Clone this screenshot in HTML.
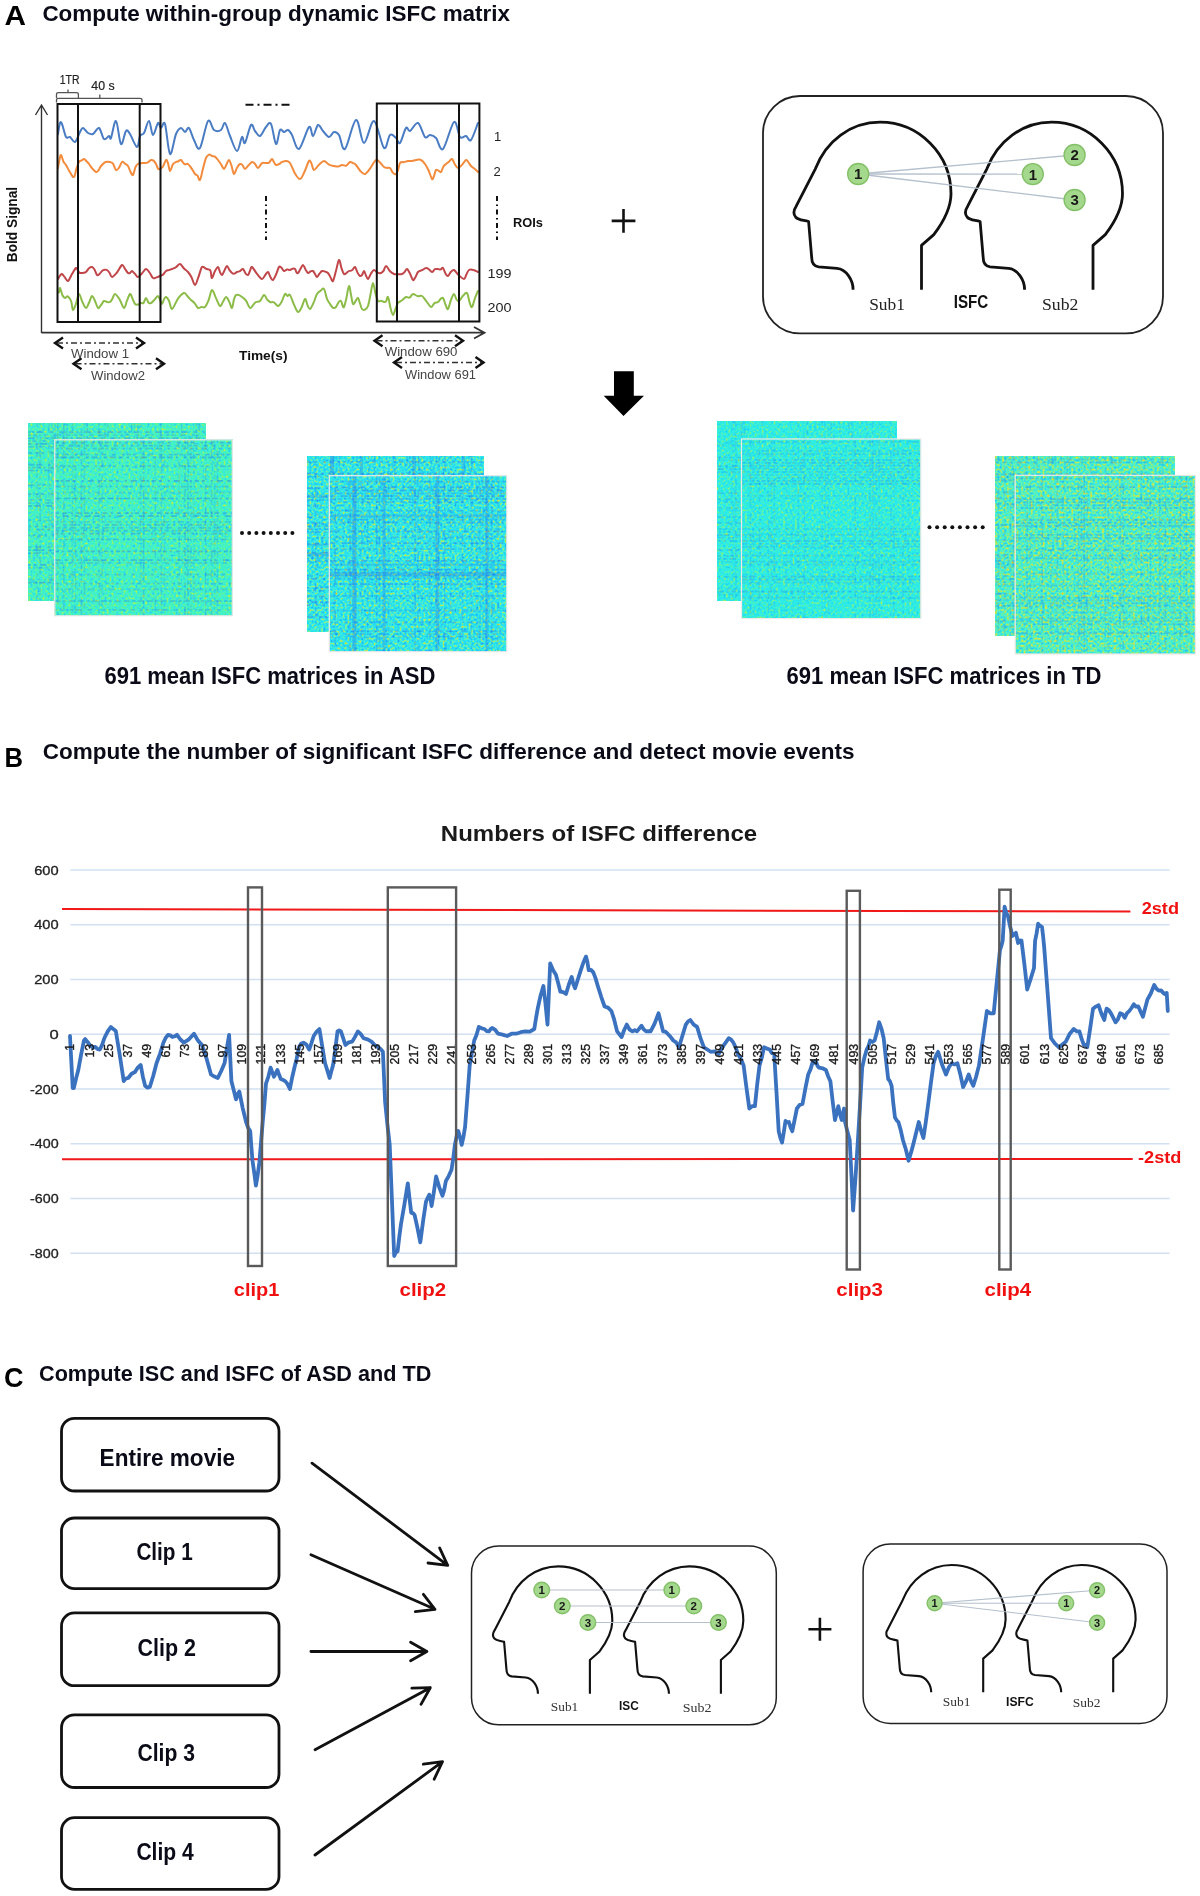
<!DOCTYPE html>
<html><head><meta charset="utf-8"><title>figure</title>
<style>
html,body{margin:0;padding:0;background:#fff;}
body{width:1200px;height:1896px;overflow:hidden;}
svg{display:block;font-family:"Liberation Sans", sans-serif;filter:blur(0.4px);}
</style></head><body>
<svg width="1200" height="1896" viewBox="0 0 1200 1896">
<rect width="1200" height="1896" fill="#fff"/>
<g font-weight="bold">
<text x="4.5" y="24.7" font-size="28" textLength="21.5" lengthAdjust="spacingAndGlyphs" fill="#000">A</text>
<text x="4.5" y="766.7" font-size="27.5" textLength="18.5" lengthAdjust="spacingAndGlyphs" fill="#000">B</text>
<text x="4" y="1386.5" font-size="28" textLength="19.5" lengthAdjust="spacingAndGlyphs" fill="#000">C</text>
</g>
<text x="42.4" y="21.2" font-size="22" font-weight="bold" textLength="467.6" lengthAdjust="spacingAndGlyphs" fill="#0b0b18">Compute within-group dynamic ISFC matrix</text>
<text x="42.7" y="759.2" font-size="22" font-weight="bold" textLength="811.8" lengthAdjust="spacingAndGlyphs" fill="#0b0b18">Compute the number of significant ISFC difference and detect movie events</text>
<text x="39" y="1380.9" font-size="22" font-weight="bold" textLength="392.3" lengthAdjust="spacingAndGlyphs" fill="#0b0b18">Compute ISC and ISFC of ASD and TD</text>
<g fill="none" stroke-linecap="round" stroke-linejoin="round">
<path d="M58 134 C58.3 132.2 59.3 124.7 60 123 C60.7 121.3 61 121.7 62 124 C63 126.3 64.7 134.8 66 137 C67.3 139.2 68.5 136.2 70 137 C71.5 137.8 73.3 142.8 75 142 C76.7 141.2 78.7 134.3 80 132 C81.3 129.7 81.7 127.8 83 128 C84.3 128.2 86.3 132 88 133 C89.7 134 91.2 134.8 93 134 C94.8 133.2 97.2 127.2 99 128 C100.8 128.8 102.3 137.7 104 139 C105.7 140.3 107.8 136.2 109 136 C110.2 135.8 109.8 140.5 111 138 C112.2 135.5 114.3 120 116 121 C117.7 122 119.3 142.3 121 144 C122.7 145.7 124.5 132.7 126 131 C127.5 129.3 128.2 131.3 130 134 C131.8 136.7 135.3 146.7 137 147 C138.7 147.3 138.8 138.3 140 136 C141.2 133.7 142.5 135.5 144 133 C145.5 130.5 147.5 120.7 149 121 C150.5 121.3 151.5 134.7 153 135 C154.5 135.3 156.7 124.2 158 123 C159.3 121.8 159.8 127.8 161 128 C162.2 128.2 163.5 119.7 165 124 C166.5 128.3 168.2 152.3 170 154 C171.8 155.7 174.2 138.3 176 134 C177.8 129.7 179.5 128.3 181 128 C182.5 127.7 183.7 132 185 132 C186.3 132 187.5 126.7 189 128 C190.5 129.3 192.2 136.7 194 140 C195.8 143.3 197.7 151.2 200 148 C202.3 144.8 205.7 124 208 121 C210.3 118 211.8 128.5 214 130 C216.2 131.5 219.2 131.2 221 130 C222.8 128.8 223.5 122 225 123 C226.5 124 228 131.3 230 136 C232 140.7 235 150.8 237 151 C239 151.2 240.7 138.3 242 137 C243.3 135.7 243.5 145 245 143 C246.5 141 249.3 127 251 125 C252.7 123 253.5 129.2 255 131 C256.5 132.8 258.2 136.7 260 136 C261.8 135.3 264.2 129 266 127 C267.8 125 269.3 121.2 271 124 C272.7 126.8 274.5 143 276 144 C277.5 145 278.7 132 280 130 C281.3 128 282.7 132 284 132 C285.3 132 286.7 129.5 288 130 C289.3 130.5 290.2 131.8 292 135 C293.8 138.2 296.2 150.3 299 149 C301.8 147.7 306.7 129.2 309 127 C311.3 124.8 311.5 136.3 313 136 C314.5 135.7 316.3 125.8 318 125 C319.7 124.2 321.2 129 323 131 C324.8 133 327.2 136.8 329 137 C330.8 137.2 332.3 132.3 334 132 C335.7 131.7 337.2 132.2 339 135 C340.8 137.8 342.2 151.5 345 149 C347.8 146.5 352.8 121 356 120 C359.2 119 361 142.8 364 143 C367 143.2 370.7 120.2 374 121 C377.3 121.8 381.3 145.7 384 148 C386.7 150.3 388 136.7 390 135 C392 133.3 394.3 136.7 396 138 C397.7 139.3 398.3 144.7 400 143 C401.7 141.3 404.3 130 406 128 C407.7 126 408 131.8 410 131 C412 130.2 415.5 122 418 123 C420.5 124 423 135 425 137 C427 139 428.2 134.8 430 135 C431.8 135.2 433.8 135.7 436 138 C438.2 140.3 440 151.7 443 149 C446 146.3 451.2 124 454 122 C456.8 120 458 134.7 460 137 C462 139.3 464.2 135.5 466 136 C467.8 136.5 469 142.2 471 140 C473 137.8 476.8 125.8 478 123" stroke="#4a7cc4" stroke-width="2"/>
<path d="M58 168 C58.2 166.6 59 161.8 59.5 159.7 C60 157.5 60.3 154.7 61 155 C61.7 155.3 62.7 160.1 63.5 161.7 C64.3 163.4 64.9 163.2 66 165 C67.1 166.8 68.7 170.3 70 172.3 C71.3 174.3 72.9 177.7 74 177 C75.1 176.3 75.7 170.8 76.5 168.3 C77.3 165.8 78.2 163.3 79 162 C79.8 160.7 80.7 161 81.5 160.5 C82.3 160 83.2 158.9 84 159 C84.8 159.1 85.7 160.4 86.5 161.2 C87.3 162.1 88 162.7 89 164 C90 165.3 91.3 167.4 92.5 168.8 C93.7 170.1 95 171.7 96 172 C97 172.3 97.7 171.4 98.5 170.4 C99.3 169.4 99.8 167.4 101 166 C102.2 164.6 104 162.6 105.5 162 C107 161.3 108.8 161.7 110 162 C111.2 162.3 112 162.3 113 163.6 C114 165 115 169.3 116 170 C117 170.7 118 169 119 167.7 C120 166.3 121 162.7 122 162 C123 161.3 124 163 125 163.7 C126 164.3 127.1 164.6 128 166 C128.9 167.4 129.7 170.3 130.5 171.8 C131.3 173.3 132.2 175.8 133 175 C133.8 174.2 134.7 168.8 135.5 167 C136.3 165.2 137.1 164.6 138 164 C138.9 163.4 140 163.4 141 163.2 C142 163.1 142.9 163.1 144 163 C145.1 162.9 146.3 163.1 147.5 162.6 C148.7 162.1 150 160.3 151 160 C152 159.7 152.7 160 153.5 160.6 C154.3 161.3 155.2 162.7 156 164 C156.8 165.3 157.3 167.9 158 168.7 C158.7 169.6 159.2 169.4 160 169 C160.8 168.6 162 168 163 166.5 C164 165 165.2 160.6 166 160 C166.8 159.4 167.3 161.3 168 163.2 C168.7 165 169.2 170.8 170 171 C170.8 171.2 172 165.6 173 164.1 C174 162.6 175.1 162.5 176 162 C176.9 161.5 177.7 161.5 178.5 161.2 C179.3 160.9 180 159.5 181 160 C182 160.5 183.3 163.5 184.5 164.2 C185.7 164.9 186.8 163.3 188 164 C189.2 164.7 190.3 166.7 191.5 168.4 C192.7 170.1 194 172.8 195 174 C196 175.2 196.7 174.6 197.5 175.6 C198.3 176.6 199.1 181.2 200 180 C200.9 178.8 202 172.3 203 168.6 C204 164.9 205 160.3 206 158 C207 155.7 208 155 209 154.6 C210 154.3 211 155.7 212 156 C213 156.3 214 155.9 215 156.6 C216 157.3 217 158.7 218 160 C219 161.3 220 162.7 221 164.2 C222 165.7 223.1 169 224 169 C224.9 169 225.7 166 226.5 164.5 C227.3 163 228.2 159.8 229 160 C229.8 160.2 230.7 163.3 231.5 165.7 C232.3 168 233.1 173.7 234 174 C234.9 174.3 236 169.3 237 167.7 C238 166 239.1 164.4 240 164 C240.9 163.6 241.7 164.3 242.5 165.1 C243.3 165.9 244 169 245 169 C246 169 247.3 166.5 248.5 165.3 C249.7 164.1 250.9 162.2 252 162 C253.1 161.8 254 162.9 255 163.9 C256 164.9 256.8 168.1 258 168 C259.2 167.9 260.7 163.9 262 163.1 C263.3 162.3 264.8 163.1 266 163 C267.2 162.9 268 163.4 269 162.7 C270 162 271.2 159.1 272 159 C272.8 158.9 273.3 161.3 274 162.3 C274.7 163.3 275.2 164.7 276 165 C276.8 165.3 278 164.7 279 164.2 C280 163.7 280.8 162.5 282 162 C283.2 161.5 284.7 160.8 286 160.9 C287.3 161.1 288.5 160.9 290 163 C291.5 165.1 293.3 170.8 295 173.5 C296.7 176.1 298.4 179.3 300 179 C301.6 178.7 303 174.8 304.5 171.8 C306 168.8 307.8 162.4 309 161 C310.2 159.6 310.7 162.1 311.5 163.6 C312.3 165.1 312.8 169.8 314 170 C315.2 170.2 317.3 166.2 319 164.7 C320.7 163.2 322.3 161 324 161 C325.7 161 327.3 163.8 329 164.6 C330.7 165.4 332.5 165.7 334 166 C335.5 166.3 336.7 166.7 338 166.6 C339.3 166.4 340.7 165.1 342 165 C343.3 164.9 344.7 166.2 346 165.7 C347.3 165.2 348.8 162.4 350 162 C351.2 161.6 352 162.6 353 163.1 C354 163.6 354.8 163.7 356 165 C357.2 166.3 359 169.7 360.5 171.2 C362 172.7 363.3 174.5 365 174 C366.7 173.5 368.7 170.2 370.5 167.9 C372.3 165.5 374.4 160.9 376 160 C377.6 159.1 378.7 161.4 380 162.5 C381.3 163.7 382.8 166.1 384 167 C385.2 167.9 386 167.8 387 167.9 C388 168.1 389 167.2 390 168 C391 168.8 392 171.9 393 172.9 C394 173.9 395.2 174.4 396 174 C396.8 173.6 397.3 172.1 398 170.2 C398.7 168.4 399 164.4 400 163 C401 161.6 402.7 162.4 404 162 C405.3 161.7 406.7 161.2 408 161 C409.3 160.8 410.7 161.1 412 160.9 C413.3 160.8 414.6 160.2 416 160 C417.4 159.8 419 159 420.5 159.7 C422 160.3 423.7 162.2 425 164 C426.3 165.8 427.3 167.7 428.5 170.2 C429.7 172.7 431.1 178 432 179 C432.9 180 433.3 177.5 434 176 C434.7 174.5 435.2 170.9 436 170 C436.8 169.1 437.7 170.2 438.5 170.6 C439.3 170.9 440.2 172.7 441 172 C441.8 171.3 442.7 167.7 443.5 166.4 C444.3 165 445.1 164.8 446 164 C446.9 163.2 448 162.6 449 161.7 C450 160.9 451 158.5 452 159 C453 159.5 454 163 455 164.5 C456 166 456.8 167.9 458 168 C459.2 168.1 460.7 166.2 462 164.9 C463.3 163.5 464.9 160.4 466 160 C467.1 159.6 467.7 161.4 468.5 162.4 C469.3 163.4 470 164.9 471 166 C472 167.1 473.3 167.7 474.5 168.7 C475.7 169.7 477.4 171.4 478 172" stroke="#f28b3c" stroke-width="2"/>
<path d="M58 279 C58.3 278.5 59.3 276.5 60 275.7 C60.7 274.9 61.2 273.7 62 274 C62.8 274.3 64 276.5 65 277.6 C66 278.8 66.8 281.6 68 281 C69.2 280.4 70.7 276.3 72 274.1 C73.3 271.9 75 268.5 76 268 C77 267.5 77.3 270 78 270.8 C78.7 271.6 79.2 272.7 80 273 C80.8 273.3 82 273 83 272.9 C84 272.7 85 272.8 86 272 C87 271.2 88 269 89 268.2 C90 267.4 91.1 266.8 92 267 C92.9 267.2 93.7 268.2 94.5 269.5 C95.3 270.9 96.2 274.3 97 275 C97.8 275.7 98.7 274.7 99.5 274 C100.3 273.3 101.2 271.7 102 271 C102.8 270.3 103.7 269.9 104.5 269.8 C105.3 269.6 106.2 269.5 107 270 C107.8 270.5 108.7 271.5 109.5 272.7 C110.3 273.9 110.8 277 112 277 C113.2 277 115.3 274.5 117 272.5 C118.7 270.5 120.7 265.6 122 265 C123.3 264.4 124 267.6 125 268.9 C126 270.2 127.2 272.3 128 273 C128.8 273.7 129.3 273.3 130 273 C130.7 272.7 131.2 270.8 132 271 C132.8 271.2 134 272.9 135 273.9 C136 274.9 136.8 277.1 138 277 C139.2 276.9 140.7 274.8 142 273.4 C143.3 272.1 144.8 269.2 146 269 C147.2 268.8 148.3 271 149.5 272.5 C150.7 274 151.8 277.2 153 278 C154.2 278.8 155.3 277.7 156.5 277.4 C157.7 277.1 158.9 276.5 160 276 C161.1 275.5 162 275.4 163 274.6 C164 273.8 165 271.8 166 271 C167 270.2 168 270.4 169 270.1 C170 269.7 170.8 269.5 172 269 C173.2 268.5 174.7 268.1 176 267.2 C177.3 266.4 178.7 263.8 180 264 C181.3 264.2 182.7 267.2 184 268.5 C185.3 269.8 186.8 270.6 188 272 C189.2 273.4 190.3 275 191.5 277.2 C192.7 279.4 193.8 285.1 195 285 C196.2 284.9 197.3 279.8 198.5 276.8 C199.7 273.8 200.8 268.3 202 267 C203.2 265.7 204.7 268.3 206 268.8 C207.3 269.3 209.2 269.2 210 270 C210.8 270.8 210.7 272.1 211 273.4 C211.3 274.7 211.3 278.4 212 278 C212.7 277.6 214 272.9 215 271.1 C216 269.3 217.2 266.8 218 267 C218.8 267.2 219.3 270.8 220 272.1 C220.7 273.4 221.2 275.3 222 275 C222.8 274.7 223.7 271.9 224.5 270.4 C225.3 268.9 226.2 266 227 266 C227.8 266 228.7 269 229.5 270.2 C230.3 271.3 231.2 272.4 232 273 C232.8 273.6 233.7 273.8 234.5 273.6 C235.3 273.5 236.1 272.4 237 272 C237.9 271.6 239 271.6 240 271.1 C241 270.6 242.1 268.6 243 269 C243.9 269.4 244.7 272.3 245.5 273.3 C246.3 274.3 247.2 275.4 248 275 C248.8 274.6 249.3 272 250 270.7 C250.7 269.4 250.8 266.5 252 267 C253.2 267.5 255.3 271.9 257 273.9 C258.7 275.9 260.7 278.8 262 279 C263.3 279.2 264 276.5 265 275.3 C266 274.2 267.1 271.7 268 272 C268.9 272.3 269.7 276 270.5 277.3 C271.3 278.6 272.1 280.4 273 280 C273.9 279.6 275 276.8 276 274.6 C277 272.5 278.1 268.1 279 267 C279.9 265.9 280.7 267.1 281.5 267.8 C282.3 268.5 283.1 270.7 284 271 C284.9 271.3 286 269.6 287 269.4 C288 269.2 289.1 270.1 290 270 C290.9 269.9 291.7 268.8 292.5 268.7 C293.3 268.5 294.3 268.4 295 269 C295.7 269.6 296 271.7 296.5 272.4 C297 273.1 297.3 273.6 298 273 C298.7 272.4 299.7 270.1 300.5 268.8 C301.3 267.5 302.2 264.9 303 265 C303.8 265.1 304.7 268 305.5 269.4 C306.3 270.7 307.2 272.7 308 273 C308.8 273.3 309.7 271.7 310.5 271.4 C311.3 271.1 312.2 270.6 313 271 C313.8 271.4 314.3 273 315 274 C315.7 275 316.2 277.1 317 277 C317.8 276.9 318.7 274.7 319.5 273.7 C320.3 272.7 321.1 271.4 322 271 C322.9 270.6 324 271.2 325 271.6 C326 271.9 327.1 272 328 273 C328.9 274 329.7 275.9 330.5 277.3 C331.3 278.6 332.1 282.1 333 281 C333.9 279.9 335 274.3 336 270.8 C337 267.3 338.1 260.4 339 260 C339.9 259.6 340.7 265.9 341.5 268.2 C342.3 270.5 343.2 273.2 344 274 C344.8 274.8 345.7 273.5 346.5 273 C347.3 272.5 348.1 271.5 349 271 C349.9 270.5 351 271 352 270.3 C353 269.6 354.1 266.6 355 267 C355.9 267.4 356.7 271.1 357.5 272.6 C358.3 274.1 359.2 275.6 360 276 C360.8 276.4 361.3 275.8 362 275 C362.7 274.1 363.3 270.9 364 271 C364.7 271.1 365.3 274.2 366 275.5 C366.7 276.8 367.2 279.3 368 279 C368.8 278.7 370 275 371 273.5 C372 272 372.9 270.2 374 270 C375.1 269.8 376.3 272.1 377.5 272.6 C378.7 273.1 380 273.3 381 273 C382 272.7 382.7 272.1 383.5 270.9 C384.3 269.7 384.9 265.9 386 266 C387.1 266.1 388.7 269.9 390 271.2 C391.3 272.5 392.7 273.5 394 274 C395.3 274.5 396.7 274.2 398 274.2 C399.3 274.2 400.9 274.3 402 274 C403.1 273.7 403.7 273 404.5 272.1 C405.3 271.3 406.1 268.8 407 269 C407.9 269.2 409 271.8 410 273.6 C411 275.5 412.1 279.4 413 280 C413.9 280.6 414.7 278.3 415.5 277 C416.3 275.7 416.9 273.1 418 272 C419.1 270.9 420.7 270.9 422 270.2 C423.3 269.6 424.8 268.1 426 268 C427.2 267.9 428 268.7 429 269.4 C430 270 431 272 432 272 C433 272 434 269.7 435 269.2 C436 268.7 437.1 268.9 438 269 C438.9 269.1 439.7 269.7 440.5 269.6 C441.3 269.4 442.2 267.3 443 268 C443.8 268.7 444.7 272.1 445.5 273.5 C446.3 274.8 447.1 276.3 448 276 C448.9 275.7 450 272.8 451 271.8 C452 270.8 452.7 269.4 454 270 C455.3 270.6 457.3 273.9 459 275.4 C460.7 276.9 462.8 279.2 464 279 C465.2 278.8 465.7 275.7 466.5 274.2 C467.3 272.7 467.8 270.7 469 270 C470.2 269.3 472 269.6 473.5 270 C475 270.3 477.2 271.7 478 272" stroke="#c0464a" stroke-width="2"/>
<path d="M58 292 C58.2 292 58.7 292.9 59 292.3 C59.3 291.6 59.4 287.5 60 288 C60.6 288.5 61.7 293.6 62.5 295.2 C63.3 296.9 64.2 297.8 65 298 C65.8 298.2 66.7 296.1 67.5 296.3 C68.3 296.4 69.3 298 70 299 C70.7 300 71 300.6 71.5 302.4 C72 304.3 72.2 309.8 73 310 C73.8 310.2 75 306.3 76 303.7 C77 301 77.9 294.2 79 294 C80.1 293.8 81.3 299.8 82.5 302.2 C83.7 304.5 84.9 307.9 86 308 C87.1 308.1 88 304.8 89 302.8 C90 300.8 91 296.3 92 296 C93 295.7 94 299 95 301 C96 303 97 307.3 98 308 C99 308.7 100 306.2 101 305 C102 303.9 103 301.5 104 301 C105 300.5 106 301.9 107 302 C108 302.2 109.1 302.6 110 302 C110.9 301.4 111.7 299.7 112.5 298.4 C113.3 297.1 113.8 293.9 115 294 C116.2 294.1 118 297 119.5 299.3 C121 301.6 122.8 307.8 124 308 C125.2 308.2 126 303 127 300.7 C128 298.3 129.1 294.4 130 294 C130.9 293.6 131.7 296.8 132.5 298.5 C133.3 300.1 134.1 303 135 304 C135.9 305 137 304.8 138 304.6 C139 304.4 140.1 303.3 141 303 C141.9 302.7 142.7 303.8 143.5 303 C144.3 302.1 145.2 298 146 298 C146.8 298 147.7 301.9 148.5 302.7 C149.3 303.6 150 303.5 151 303 C152 302.5 153.3 300.9 154.5 299.7 C155.7 298.6 157.1 296 158 296 C158.9 296 159.3 298.4 160 299.7 C160.7 301.1 161.3 304.1 162 304 C162.7 303.9 163.3 300.5 164 299.3 C164.7 298.2 165.2 296.8 166 297 C166.8 297.2 168 298.7 169 300.7 C170 302.7 170.5 309.3 172 309 C173.5 308.7 176 301.3 178 298.6 C180 296 182.4 293.4 184 293 C185.6 292.6 186.3 295.2 187.5 296.3 C188.7 297.5 189.8 298.9 191 300 C192.2 301.1 193.3 301.8 194.5 303.1 C195.7 304.4 196.8 307.4 198 308 C199.2 308.6 200.3 307.1 201.5 306.9 C202.7 306.7 203.8 308.1 205 307 C206.2 305.9 207.3 303.3 208.5 300.5 C209.7 297.6 210.8 290.4 212 290 C213.2 289.6 214.7 295.5 216 298.1 C217.3 300.8 218.8 305.4 220 306 C221.2 306.6 222 303.3 223 301.8 C224 300.3 225 297.1 226 297 C227 296.9 228 299.3 229 301.2 C230 303 231.2 308.3 232 308 C232.8 307.7 233.3 301.3 234 299.1 C234.7 297 235.2 295.7 236 295 C236.8 294.3 238 294.8 239 295.1 C240 295.5 240.8 296.1 242 297 C243.2 297.9 244.7 298.9 246 300.7 C247.3 302.5 248.8 307.3 250 308 C251.2 308.7 252 306.1 253 305.1 C254 304.1 254.8 302.7 256 302 C257.2 301.3 258.7 302.2 260 301 C261.3 299.8 262.8 295.3 264 295 C265.2 294.7 266 298.2 267 299.4 C268 300.5 268.8 301.5 270 302 C271.2 302.5 272.7 301.7 274 302.4 C275.3 303.1 276.8 306.1 278 306 C279.2 305.9 280.3 304 281.5 302 C282.7 300 284 295 285 294 C286 293 286.7 295.8 287.5 296 C288.3 296.2 288.9 293.6 290 295 C291.1 296.4 292.7 301.8 294 304.7 C295.3 307.5 296.8 311.5 298 312 C299.2 312.5 300.3 309.7 301.5 307.5 C302.7 305.4 304 299.4 305 299 C306 298.6 306.7 303.6 307.5 305.3 C308.3 307 309 309.4 310 309 C311 308.6 312.3 305.4 313.5 302.9 C314.7 300.4 315.8 296 317 294 C318.2 292 319.3 291.6 320.5 290.8 C321.7 289.9 322.9 287.6 324 289 C325.1 290.4 326 296.4 327 298.9 C328 301.4 329 302.5 330 304 C331 305.5 332 307.3 333 307.8 C334 308.3 335.1 307.9 336 307 C336.9 306.1 337.7 303.3 338.5 302.3 C339.3 301.3 340.3 300.5 341 301 C341.7 301.5 342 304.3 342.5 305.3 C343 306.3 343.3 308.3 344 307 C344.7 305.7 345.7 301.1 346.5 297.6 C347.3 294.1 348.2 286.5 349 286 C349.8 285.5 350.3 291.8 351 294.8 C351.7 297.8 352.2 302.9 353 304 C353.8 305.1 354.7 302.2 355.5 301.2 C356.3 300.2 357.2 297.6 358 298 C358.8 298.4 359.3 301.6 360 303.5 C360.7 305.3 361.2 308 362 309 C362.8 310 364 310.1 365 309.6 C366 309.1 367.1 308.5 368 306 C368.9 303.5 369.7 298.3 370.5 294.5 C371.3 290.7 372.2 283.1 373 283 C373.8 282.9 374.7 290.7 375.5 293.7 C376.3 296.7 377.1 299.8 378 301 C378.9 302.2 380 300.6 381 300.8 C382 300.9 383.2 301.9 384 302 C384.8 302.1 385.3 302.2 386 301.4 C386.7 300.6 387.2 295.9 388 297 C388.8 298.1 389.7 305 390.5 308 C391.3 311 392.2 314.9 393 315 C393.8 315.1 394.7 310.8 395.5 308.8 C396.3 306.8 396.9 304.4 398 303 C399.1 301.6 400.7 301.3 402 300.3 C403.3 299.3 404.8 297.5 406 297 C407.2 296.5 408.3 298.1 409.5 297.6 C410.7 297.1 411.7 294.2 413 294 C414.3 293.8 416 295.8 417.5 296.1 C419 296.5 420.5 295.1 422 296 C423.5 296.9 425 299.6 426.5 301.4 C428 303.3 429.7 306.7 431 307 C432.3 307.3 433.3 303.9 434.5 303.1 C435.7 302.3 437 302.7 438 302 C439 301.3 439.7 299.8 440.5 299.1 C441.3 298.5 442.2 297.1 443 298 C443.8 298.9 444.7 302.7 445.5 304.5 C446.3 306.3 447.1 309.8 448 309 C448.9 308.2 450 302.3 451 299.8 C452 297.3 453.1 294 454 294 C454.9 294 455.7 298.4 456.5 299.5 C457.3 300.7 457.9 301.6 459 301 C460.1 300.4 461.7 297.2 463 295.8 C464.3 294.5 465.9 292 467 293 C468.1 294 468.7 299.7 469.5 302.1 C470.3 304.4 471.1 307.7 472 307 C472.9 306.3 474 300.7 475 298 C476 295.4 477.5 292.2 478 291" stroke="#8cbc48" stroke-width="2"/>
</g>
<g fill="none" stroke="#333" stroke-width="1.4">
<path d="M41.5 333 V105 M35.5 115 L41.5 105 L47.5 115"/>
<path d="M41.5 332.6 H484 M474 327 L484.5 332.8 L474 338.5" stroke-width="1.8"/>
</g>
<g fill="none" stroke="#111" stroke-width="2">
<rect x="57.5" y="104" width="103" height="218"/>
<path d="M78 104 V322 M139.7 104 V322"/>
<rect x="376.8" y="103.5" width="102.6" height="218"/>
<path d="M397 103.5 V321.5 M459 103.5 V321.5"/>
</g>
<g fill="none" stroke="#555" stroke-width="1.3">
<path d="M56.5 98 V94.5 Q56.5 92.7 58.5 92.7 H76.5 Q78.4 92.7 78.4 94.5 V98 M68 92.7 V89.5"/>
<path d="M56.5 102.5 V100 Q56.5 98.3 58.5 98.3 H140 Q142 98.3 142 100 V102.5 M99.8 98.3 V94.5"/>
</g>
<text x="59.8" y="84" font-size="12.5" textLength="19.8" lengthAdjust="spacingAndGlyphs" fill="#222" stroke="#222" stroke-width="0.2">1TR</text>
<text x="91.3" y="90.3" font-size="12.5" textLength="23.3" lengthAdjust="spacingAndGlyphs" fill="#222" stroke="#222" stroke-width="0.2">40 s</text>
<g stroke="#111" stroke-width="2" fill="none">
<path d="M245.5 104.7 H289.5" stroke-dasharray="8 4 2 4"/>
<path d="M266 196 V240" stroke-dasharray="5 3.5 1.5 3.5"/>
<path d="M497 196 V240" stroke-dasharray="5 3.5 1.5 3.5"/>
</g>
<text x="494" y="141" font-size="13" fill="#222">1</text>
<text x="493.4" y="175.5" font-size="13" fill="#222">2</text>
<text x="513" y="227.3" font-size="13" font-weight="bold" textLength="30" lengthAdjust="spacingAndGlyphs" fill="#111">ROIs</text>
<text x="487.5" y="278" font-size="13" textLength="24" lengthAdjust="spacingAndGlyphs" fill="#222">199</text>
<text x="487.5" y="312" font-size="13" textLength="24" lengthAdjust="spacingAndGlyphs" fill="#222">200</text>
<text transform="translate(17.4 262.2) rotate(-90)" font-size="15" font-weight="bold" textLength="75.3" lengthAdjust="spacingAndGlyphs" fill="#111">Bold Signal</text>
<text x="239" y="359.5" font-size="13.5" font-weight="bold" textLength="48.5" lengthAdjust="spacingAndGlyphs" fill="#111">Time(s)</text>
<path d="M57 343 H142" stroke="#333" stroke-width="1.6" stroke-dasharray="6 3 2 3" fill="none"/>
<path d="M63 337.5 L55 343 L63 348.5 M136 337.5 L144 343 L136 348.5" stroke="#111" stroke-width="2.4" fill="none"/>
<path d="M75.5 363.7 H162" stroke="#333" stroke-width="1.6" stroke-dasharray="6 3 2 3" fill="none"/>
<path d="M81.5 358.2 L73.5 363.7 L81.5 369.2 M156 358.2 L164 363.7 L156 369.2" stroke="#111" stroke-width="2.4" fill="none"/>
<path d="M376.5 340.7 H461" stroke="#333" stroke-width="1.6" stroke-dasharray="6 3 2 3" fill="none"/>
<path d="M382.5 335.2 L374.5 340.7 L382.5 346.2 M455 335.2 L463 340.7 L455 346.2" stroke="#111" stroke-width="2.4" fill="none"/>
<path d="M396 362.5 H481.5" stroke="#333" stroke-width="1.6" stroke-dasharray="6 3 2 3" fill="none"/>
<path d="M402 357 L394 362.5 L402 368 M475.5 357 L483.5 362.5 L475.5 368" stroke="#111" stroke-width="2.4" fill="none"/>
<text x="71" y="357.5" font-size="12.5" textLength="58" lengthAdjust="spacingAndGlyphs" fill="#444">Window 1</text>
<text x="91" y="380" font-size="12.5" textLength="54" lengthAdjust="spacingAndGlyphs" fill="#444">Window2</text>
<text x="384.7" y="355.5" font-size="12.5" textLength="72.8" lengthAdjust="spacingAndGlyphs" fill="#444">Window 690</text>
<text x="405" y="378.5" font-size="12.5" textLength="71" lengthAdjust="spacingAndGlyphs" fill="#444">Window 691</text>
<path d="M611.7 220.9 H635.4 M623.5 209 V232.8" stroke="#111" stroke-width="2.6"/>
<path d="M614 371.3 H633.8 V395.7 H644 L623.5 416.1 L603.7 395.7 H614 Z" fill="#000"/>
<defs><path id="hd" d="M59.1 168 C59.1 158 52 147.5 43 146.7 L24.6 145.2 C19.5 144.5 17.7 140.5 17.7 135.9 L14.6 99.8 C9 98.2 4.5 98.5 1.8 95.5 C-0.8 92.5 -0.5 88.5 2.2 84.5 L21.5 46.9 C32 19.4 56.6 0.5 86 0.5 C125.2 0.5 157 32.8 157 72 C157 87.4 149.1 100.6 139.8 112.9 L127.5 123.7 L127.5 168" fill="none" stroke="#111" stroke-width="2.8" stroke-linecap="butt" stroke-linejoin="round"/></defs>
<rect x="763" y="96" width="400" height="237.4" rx="37" fill="none" stroke="#222" stroke-width="1.8"/>
<use href="#hd" transform="translate(794 121.7) scale(1)"/>
<use href="#hd" transform="translate(965.5 121.7) scale(1)"/>
<g stroke="#b4c0cc" stroke-width="1.3" fill="none">
<path d="M858.2 174 L1074.6 155"/>
<path d="M858.2 174 L1032.8 174.1"/>
<path d="M858.2 174 L1074.6 200"/>
</g>
<circle cx="858.2" cy="174" r="10.5" fill="#a4d88c" stroke="#84c068" stroke-width="1.4"/>
<text x="858.2" y="179.4" font-size="15" font-weight="bold" text-anchor="middle" fill="#1a1a1a">1</text>
<circle cx="1074.6" cy="155" r="10.5" fill="#a4d88c" stroke="#84c068" stroke-width="1.4"/>
<text x="1074.6" y="160.4" font-size="15" font-weight="bold" text-anchor="middle" fill="#1a1a1a">2</text>
<circle cx="1032.8" cy="174.1" r="10.5" fill="#a4d88c" stroke="#84c068" stroke-width="1.4"/>
<text x="1032.8" y="179.5" font-size="15" font-weight="bold" text-anchor="middle" fill="#1a1a1a">1</text>
<circle cx="1074.6" cy="200" r="10.5" fill="#a4d88c" stroke="#84c068" stroke-width="1.4"/>
<text x="1074.6" y="205.4" font-size="15" font-weight="bold" text-anchor="middle" fill="#1a1a1a">3</text>
<text x="869.2" y="309.6" font-size="17" font-family="'Liberation Serif', serif" textLength="35.8" lengthAdjust="spacingAndGlyphs" fill="#222">Sub1</text>
<text x="1042" y="310.2" font-size="17" font-family="'Liberation Serif', serif" textLength="36.4" lengthAdjust="spacingAndGlyphs" fill="#222">Sub2</text>
<text x="953.8" y="308.3" font-size="17.5" font-weight="bold" textLength="34.5" lengthAdjust="spacingAndGlyphs" fill="#111">ISFC</text>
<rect x="471.5" y="1546" width="304.8" height="178.8" rx="27" fill="none" stroke="#222" stroke-width="1.5"/>
<use href="#hd" transform="translate(493 1566) scale(0.76)"/>
<use href="#hd" transform="translate(624 1566) scale(0.76)"/>
<g stroke="#b4c0cc" stroke-width="1.1" fill="none">
<path d="M541.7 1590 H671.8"/>
<path d="M562.3 1606 H693.8"/>
<path d="M587.9 1622.5 H718.5"/>
</g>
<circle cx="541.7" cy="1590" r="7.8" fill="#a4d88c" stroke="#84c068" stroke-width="1.4"/>
<text x="541.7" y="1594.1" font-size="11.5" font-weight="bold" text-anchor="middle" fill="#1a1a1a">1</text>
<circle cx="562.3" cy="1606" r="7.8" fill="#a4d88c" stroke="#84c068" stroke-width="1.4"/>
<text x="562.3" y="1610.1" font-size="11.5" font-weight="bold" text-anchor="middle" fill="#1a1a1a">2</text>
<circle cx="587.9" cy="1622.5" r="7.8" fill="#a4d88c" stroke="#84c068" stroke-width="1.4"/>
<text x="587.9" y="1626.6" font-size="11.5" font-weight="bold" text-anchor="middle" fill="#1a1a1a">3</text>
<circle cx="671.8" cy="1590" r="7.8" fill="#a4d88c" stroke="#84c068" stroke-width="1.4"/>
<text x="671.8" y="1594.1" font-size="11.5" font-weight="bold" text-anchor="middle" fill="#1a1a1a">1</text>
<circle cx="693.8" cy="1606" r="7.8" fill="#a4d88c" stroke="#84c068" stroke-width="1.4"/>
<text x="693.8" y="1610.1" font-size="11.5" font-weight="bold" text-anchor="middle" fill="#1a1a1a">2</text>
<circle cx="718.5" cy="1622.5" r="7.8" fill="#a4d88c" stroke="#84c068" stroke-width="1.4"/>
<text x="718.5" y="1626.6" font-size="11.5" font-weight="bold" text-anchor="middle" fill="#1a1a1a">3</text>
<text x="550.8" y="1711" font-size="13" font-family="'Liberation Serif', serif" textLength="27.5" lengthAdjust="spacingAndGlyphs" fill="#333">Sub1</text>
<text x="682.8" y="1712.4" font-size="13" font-family="'Liberation Serif', serif" textLength="28.8" lengthAdjust="spacingAndGlyphs" fill="#333">Sub2</text>
<text x="619" y="1709.6" font-size="13.5" font-weight="bold" textLength="19.8" lengthAdjust="spacingAndGlyphs" fill="#111">ISC</text>
<path d="M808.4 1629.2 H831.4 M819.9 1617.7 V1640.7" stroke="#111" stroke-width="2.6"/>
<rect x="863.1" y="1544" width="303.9" height="179.5" rx="27" fill="none" stroke="#222" stroke-width="1.5"/>
<use href="#hd" transform="translate(886.3 1564.6) scale(0.76)"/>
<use href="#hd" transform="translate(1016.3 1564.6) scale(0.76)"/>
<g stroke="#b4c0cc" stroke-width="1.1" fill="none">
<path d="M934.6 1603.2 L1097.1 1590.2"/>
<path d="M934.6 1603.2 L1066.2 1603.2"/>
<path d="M934.6 1603.2 L1097.1 1622.7"/>
</g>
<circle cx="934.6" cy="1603.2" r="7.5" fill="#a4d88c" stroke="#84c068" stroke-width="1.4"/>
<text x="934.6" y="1607.2" font-size="11" font-weight="bold" text-anchor="middle" fill="#1a1a1a">1</text>
<circle cx="1097.1" cy="1590.2" r="7.5" fill="#a4d88c" stroke="#84c068" stroke-width="1.4"/>
<text x="1097.1" y="1594.2" font-size="11" font-weight="bold" text-anchor="middle" fill="#1a1a1a">2</text>
<circle cx="1066.2" cy="1603.2" r="7.5" fill="#a4d88c" stroke="#84c068" stroke-width="1.4"/>
<text x="1066.2" y="1607.2" font-size="11" font-weight="bold" text-anchor="middle" fill="#1a1a1a">1</text>
<circle cx="1097.1" cy="1622.7" r="7.5" fill="#a4d88c" stroke="#84c068" stroke-width="1.4"/>
<text x="1097.1" y="1626.7" font-size="11" font-weight="bold" text-anchor="middle" fill="#1a1a1a">3</text>
<text x="942.7" y="1705.6" font-size="12.5" font-family="'Liberation Serif', serif" textLength="27.7" lengthAdjust="spacingAndGlyphs" fill="#333">Sub1</text>
<text x="1072.7" y="1707" font-size="12.5" font-family="'Liberation Serif', serif" textLength="27.7" lengthAdjust="spacingAndGlyphs" fill="#333">Sub2</text>
<text x="1006" y="1705.6" font-size="13" font-weight="bold" textLength="27.7" lengthAdjust="spacingAndGlyphs" fill="#111">ISFC</text>
<defs>
<filter id="fa1" x="0" y="0" width="1" height="1" color-interpolation-filters="sRGB">
<feTurbulence type="fractalNoise" baseFrequency="0.42" numOctaves="1" seed="3"/>
<feColorMatrix type="matrix" values="1.2 0 0 0 -0.1 1.2 0 0 0 -0.1 1.2 0 0 0 -0.1 0 0 0 0 1"/>
<feComponentTransfer><feFuncR type="table" tableValues="0.1 0.16 0.22 0.26 0.36 0.72 0.95"/><feFuncG type="table" tableValues="0.5 0.78 0.92 0.95 0.96 0.95 0.8"/><feFuncB type="table" tableValues="0.95 0.94 0.86 0.78 0.62 0.3 0.15"/></feComponentTransfer>
<feGaussianBlur stdDeviation="0.4"/>
</filter>
<filter id="fa2" x="0" y="0" width="1" height="1" color-interpolation-filters="sRGB">
<feTurbulence type="fractalNoise" baseFrequency="0.42" numOctaves="1" seed="5"/>
<feColorMatrix type="matrix" values="1.3 0 0 0 -0.12 1.3 0 0 0 -0.12 1.3 0 0 0 -0.12 0 0 0 0 1"/>
<feComponentTransfer><feFuncR type="table" tableValues="0.1 0.12 0.14 0.17 0.32 0.7 0.95"/><feFuncG type="table" tableValues="0.45 0.65 0.85 0.9 0.94 0.93 0.75"/><feFuncB type="table" tableValues="0.95 0.95 0.95 0.93 0.78 0.35 0.15"/></feComponentTransfer>
<feGaussianBlur stdDeviation="0.4"/>
</filter>
<filter id="ft1" x="0" y="0" width="1" height="1" color-interpolation-filters="sRGB">
<feTurbulence type="fractalNoise" baseFrequency="0.42" numOctaves="1" seed="9"/>
<feColorMatrix type="matrix" values="1.05 0 0 0 -0.02 1.05 0 0 0 -0.02 1.05 0 0 0 -0.02 0 0 0 0 1"/>
<feComponentTransfer><feFuncR type="table" tableValues="0.1 0.12 0.15 0.18 0.34 0.72 0.95"/><feFuncG type="table" tableValues="0.55 0.76 0.9 0.93 0.95 0.94 0.8"/><feFuncB type="table" tableValues="0.95 0.95 0.93 0.9 0.7 0.3 0.15"/></feComponentTransfer>
<feGaussianBlur stdDeviation="0.4"/>
</filter>
<filter id="ft2" x="0" y="0" width="1" height="1" color-interpolation-filters="sRGB">
<feTurbulence type="fractalNoise" baseFrequency="0.42" numOctaves="1" seed="11"/>
<feColorMatrix type="matrix" values="1.25 0 0 0 -0.1 1.25 0 0 0 -0.1 1.25 0 0 0 -0.1 0 0 0 0 1"/>
<feComponentTransfer><feFuncR type="table" tableValues="0.12 0.14 0.2 0.3 0.5 0.85 0.98"/><feFuncG type="table" tableValues="0.5 0.75 0.9 0.94 0.94 0.9 0.7"/><feFuncB type="table" tableValues="0.95 0.93 0.9 0.8 0.55 0.25 0.12"/></feComponentTransfer>
<feGaussianBlur stdDeviation="0.4"/>
</filter>
<filter id="soft" x="-5%" y="-5%" width="110%" height="110%"><feGaussianBlur stdDeviation="0.45"/></filter>
</defs>
<g>
<rect x="28.3" y="423.3" width="177" height="177" fill="#000" filter="url(#fa1)"/>
<g filter="url(#soft)">
<path d="M28.3 432.2h177" stroke="#2a7fe0" stroke-opacity="0.43" stroke-width="1.7" stroke-dasharray="2 2 2 3 6 6 4 6 6 4 4 3"/>
<path d="M28.3 435.1h177" stroke="#2a7fe0" stroke-opacity="0.28" stroke-width="1.7" stroke-dasharray="3 2 4 6 4 6 4 2 2 6 3 4"/>
<path d="M28.3 438.1h177" stroke="#2a7fe0" stroke-opacity="0.35" stroke-width="1.7" stroke-dasharray="6 6 2 2 4 4 4 6 6 2 2 4"/>
<path d="M28.3 441h177" stroke="#2a7fe0" stroke-opacity="0.36" stroke-width="1.7" stroke-dasharray="2 2 4 6 4 6 4 2 6 4 3 2"/>
<path d="M28.3 443.9h177" stroke="#2a7fe0" stroke-opacity="0.45" stroke-width="1.7" stroke-dasharray="3 4 3 3 6 6 6 2 3 6 6 4"/>
<path d="M28.3 446.9h177" stroke="#2a7fe0" stroke-opacity="0.24" stroke-width="1.7" stroke-dasharray="6 4 6 4 6 3 3 2 3 3 3 3"/>
<path d="M28.3 452.8h177" stroke="#2a7fe0" stroke-opacity="0.34" stroke-width="1.7" stroke-dasharray="3 4 4 2 3 6 4 4 3 2 6 6"/>
<path d="M28.3 464.6h177" stroke="#2a7fe0" stroke-opacity="0.38" stroke-width="1.7" stroke-dasharray="6 2 6 6 2 3 2 3 6 3 2 4"/>
<path d="M28.3 467.6h177" stroke="#2a7fe0" stroke-opacity="0.38" stroke-width="1.7" stroke-dasharray="2 2 3 2 4 2 2 3 6 3 4 4"/>
<path d="M28.3 470.5h177" stroke="#2a7fe0" stroke-opacity="0.42" stroke-width="1.7" stroke-dasharray="6 2 2 6 6 6 6 4 2 3 2 4"/>
<path d="M28.3 485.2h177" stroke="#2a7fe0" stroke-opacity="0.33" stroke-width="1.7" stroke-dasharray="6 3 2 3 4 3 2 4 2 4 4 3"/>
<path d="M28.3 494.1h177" stroke="#2a7fe0" stroke-opacity="0.43" stroke-width="1.7" stroke-dasharray="3 4 3 3 3 6 3 3 6 4 2 2"/>
<path d="M28.3 500h177" stroke="#2a7fe0" stroke-opacity="0.29" stroke-width="1.7" stroke-dasharray="6 4 3 4 6 4 4 2 3 2 3 6"/>
<path d="M28.3 503h177" stroke="#2a7fe0" stroke-opacity="0.43" stroke-width="1.7" stroke-dasharray="3 6 2 6 4 2 2 6 3 6 3 6"/>
<path d="M28.3 505.9h177" stroke="#2a7fe0" stroke-opacity="0.43" stroke-width="1.7" stroke-dasharray="4 2 6 6 6 2 3 3 3 2 3 6"/>
<path d="M28.3 520.6h177" stroke="#2a7fe0" stroke-opacity="0.25" stroke-width="1.7" stroke-dasharray="3 6 4 3 3 2 2 2 3 6 3 3"/>
<path d="M28.3 526.5h177" stroke="#2a7fe0" stroke-opacity="0.37" stroke-width="1.7" stroke-dasharray="3 4 3 4 4 6 3 2 4 6 6 3"/>
<path d="M28.3 529.5h177" stroke="#2a7fe0" stroke-opacity="0.43" stroke-width="1.7" stroke-dasharray="2 6 3 2 3 3 3 6 2 2 4 6"/>
<path d="M28.3 535.4h177" stroke="#2a7fe0" stroke-opacity="0.39" stroke-width="1.7" stroke-dasharray="2 2 3 3 4 2 2 6 2 2 6 4"/>
<path d="M28.3 547.2h177" stroke="#2a7fe0" stroke-opacity="0.35" stroke-width="1.7" stroke-dasharray="3 4 6 6 3 4 3 6 3 6 2 6"/>
<path d="M28.3 550.1h177" stroke="#2a7fe0" stroke-opacity="0.47" stroke-width="1.7" stroke-dasharray="2 3 6 2 3 4 2 3 4 3 4 3"/>
<path d="M28.3 553.1h177" stroke="#2a7fe0" stroke-opacity="0.33" stroke-width="1.7" stroke-dasharray="3 2 6 6 3 3 3 6 6 4 6 3"/>
<path d="M28.3 564.9h177" stroke="#2a7fe0" stroke-opacity="0.48" stroke-width="1.7" stroke-dasharray="2 4 2 4 6 6 2 6 4 4 2 2"/>
<path d="M28.3 567.9h177" stroke="#2a7fe0" stroke-opacity="0.28" stroke-width="1.7" stroke-dasharray="3 2 2 4 4 2 3 4 3 6 4 6"/>
<path d="M28.3 579.6h177" stroke="#2a7fe0" stroke-opacity="0.26" stroke-width="1.7" stroke-dasharray="6 4 2 4 2 3 6 2 4 2 2 4"/>
<path d="M28.3 582.6h177" stroke="#2a7fe0" stroke-opacity="0.47" stroke-width="1.7" stroke-dasharray="3 2 4 2 6 2 4 6 4 3 2 3"/>
<path d="M37.1 423.3v177" stroke="#2a7fe0" stroke-opacity="0.24" stroke-width="1.5" stroke-dasharray="3 5 2 3 3 5 5 3 5 8 3 5"/>
<path d="M40.1 423.3v177" stroke="#2a7fe0" stroke-opacity="0.28" stroke-width="1.5" stroke-dasharray="2 5 2 2 2 3 8 3 8 2 8 8"/>
<path d="M49 423.3v177" stroke="#2a7fe0" stroke-opacity="0.19" stroke-width="1.5" stroke-dasharray="8 5 3 3 5 3 3 8 5 2 3 2"/>
<path d="M51.9 423.3v177" stroke="#2a7fe0" stroke-opacity="0.21" stroke-width="1.5" stroke-dasharray="5 8 3 2 2 8 5 3 5 2 8 3"/>
<path d="M54.9 423.3v177" stroke="#2a7fe0" stroke-opacity="0.18" stroke-width="1.5" stroke-dasharray="8 2 5 5 5 5 3 2 5 3 5 3"/>
<path d="M57.8 423.3v177" stroke="#2a7fe0" stroke-opacity="0.29" stroke-width="1.5" stroke-dasharray="8 2 8 5 3 3 2 2 5 2 3 8"/>
<path d="M63.7 423.3v177" stroke="#2a7fe0" stroke-opacity="0.31" stroke-width="1.5" stroke-dasharray="8 2 5 5 3 2 3 8 5 8 3 5"/>
<path d="M66.7 423.3v177" stroke="#2a7fe0" stroke-opacity="0.25" stroke-width="1.5" stroke-dasharray="3 2 8 3 2 3 2 2 2 3 5 2"/>
<path d="M72.5 423.3v177" stroke="#2a7fe0" stroke-opacity="0.23" stroke-width="1.5" stroke-dasharray="8 2 2 3 8 5 2 8 2 2 2 8"/>
<path d="M84.3 423.3v177" stroke="#2a7fe0" stroke-opacity="0.29" stroke-width="1.5" stroke-dasharray="2 5 3 3 3 8 8 8 2 8 5 2"/>
<path d="M87.3 423.3v177" stroke="#2a7fe0" stroke-opacity="0.36" stroke-width="1.5" stroke-dasharray="3 2 3 5 5 5 3 2 8 2 8 5"/>
<path d="M99.1 423.3v177" stroke="#2a7fe0" stroke-opacity="0.35" stroke-width="1.5" stroke-dasharray="2 3 8 5 5 8 8 8 2 3 5 2"/>
<path d="M105 423.3v177" stroke="#2a7fe0" stroke-opacity="0.31" stroke-width="1.5" stroke-dasharray="2 5 8 2 8 5 8 3 3 2 2 3"/>
<path d="M108 423.3v177" stroke="#2a7fe0" stroke-opacity="0.18" stroke-width="1.5" stroke-dasharray="5 5 3 5 2 5 3 8 8 8 2 3"/>
<path d="M131.6 423.3v177" stroke="#2a7fe0" stroke-opacity="0.24" stroke-width="1.5" stroke-dasharray="8 8 8 5 3 8 5 8 5 2 5 2"/>
<path d="M134.5 423.3v177" stroke="#2a7fe0" stroke-opacity="0.24" stroke-width="1.5" stroke-dasharray="5 8 2 3 2 5 5 5 2 8 8 2"/>
<path d="M137.5 423.3v177" stroke="#2a7fe0" stroke-opacity="0.21" stroke-width="1.5" stroke-dasharray="8 5 2 5 2 2 5 3 3 5 8 5"/>
<path d="M140.4 423.3v177" stroke="#2a7fe0" stroke-opacity="0.19" stroke-width="1.5" stroke-dasharray="5 8 2 8 3 2 2 8 8 3 5 8"/>
<path d="M161.1 423.3v177" stroke="#2a7fe0" stroke-opacity="0.27" stroke-width="1.5" stroke-dasharray="3 3 8 8 5 5 5 5 5 8 3 5"/>
<path d="M181.7 423.3v177" stroke="#2a7fe0" stroke-opacity="0.21" stroke-width="1.5" stroke-dasharray="8 2 3 3 2 3 8 3 8 5 8 8"/>
<path d="M196.5 423.3v177" stroke="#2a7fe0" stroke-opacity="0.31" stroke-width="1.5" stroke-dasharray="3 3 2 3 5 2 5 3 5 5 3 2"/>
<path d="M199.4 423.3v177" stroke="#2a7fe0" stroke-opacity="0.30" stroke-width="1.5" stroke-dasharray="8 8 8 3 8 5 5 2 8 5 5 3"/>
</g>
</g>
<g>
<rect x="54.8" y="439.8" width="177.5" height="176" fill="#000" filter="url(#fa1)"/>
<g filter="url(#soft)">
<path d="M54.8 442.7h177.5" stroke="#2a7fe0" stroke-opacity="0.43" stroke-width="1.7" stroke-dasharray="4 3 4 6 2 2 2 4 3 6 4 3"/>
<path d="M54.8 445.7h177.5" stroke="#2a7fe0" stroke-opacity="0.41" stroke-width="1.7" stroke-dasharray="2 2 4 6 4 4 3 6 3 3 2 6"/>
<path d="M54.8 448.6h177.5" stroke="#2a7fe0" stroke-opacity="0.36" stroke-width="1.7" stroke-dasharray="4 2 2 3 6 6 2 4 3 6 4 3"/>
<path d="M54.8 454.5h177.5" stroke="#2a7fe0" stroke-opacity="0.42" stroke-width="1.7" stroke-dasharray="4 6 4 6 3 2 4 2 3 6 3 4"/>
<path d="M54.8 457.4h177.5" stroke="#2a7fe0" stroke-opacity="0.46" stroke-width="1.7" stroke-dasharray="3 3 6 3 4 4 2 6 3 3 6 6"/>
<path d="M54.8 466.2h177.5" stroke="#2a7fe0" stroke-opacity="0.35" stroke-width="1.7" stroke-dasharray="2 3 6 2 3 2 3 6 2 2 3 6"/>
<path d="M54.8 480.9h177.5" stroke="#2a7fe0" stroke-opacity="0.48" stroke-width="1.7" stroke-dasharray="4 2 2 3 4 3 3 6 2 4 6 4"/>
<path d="M54.8 486.7h177.5" stroke="#2a7fe0" stroke-opacity="0.33" stroke-width="1.7" stroke-dasharray="6 3 2 2 2 4 2 4 6 2 3 6"/>
<path d="M54.8 492.6h177.5" stroke="#2a7fe0" stroke-opacity="0.25" stroke-width="1.7" stroke-dasharray="4 6 2 2 6 3 4 6 3 4 4 6"/>
<path d="M54.8 498.5h177.5" stroke="#2a7fe0" stroke-opacity="0.46" stroke-width="1.7" stroke-dasharray="6 3 6 2 6 2 6 2 2 4 3 2"/>
<path d="M54.8 513.1h177.5" stroke="#2a7fe0" stroke-opacity="0.44" stroke-width="1.7" stroke-dasharray="4 4 4 4 2 4 4 4 4 2 2 2"/>
<path d="M54.8 516.1h177.5" stroke="#2a7fe0" stroke-opacity="0.44" stroke-width="1.7" stroke-dasharray="2 6 6 6 4 6 6 3 6 3 2 4"/>
<path d="M54.8 521.9h177.5" stroke="#2a7fe0" stroke-opacity="0.26" stroke-width="1.7" stroke-dasharray="3 3 4 4 6 4 2 3 6 3 3 6"/>
<path d="M54.8 524.9h177.5" stroke="#2a7fe0" stroke-opacity="0.36" stroke-width="1.7" stroke-dasharray="2 6 4 3 6 2 2 4 2 3 2 6"/>
<path d="M54.8 527.8h177.5" stroke="#2a7fe0" stroke-opacity="0.33" stroke-width="1.7" stroke-dasharray="6 3 3 3 6 6 3 2 4 4 4 4"/>
<path d="M54.8 530.7h177.5" stroke="#2a7fe0" stroke-opacity="0.34" stroke-width="1.7" stroke-dasharray="4 3 6 3 3 3 3 3 4 3 4 2"/>
<path d="M54.8 533.7h177.5" stroke="#2a7fe0" stroke-opacity="0.45" stroke-width="1.7" stroke-dasharray="3 3 2 6 2 2 2 6 3 6 4 2"/>
<path d="M54.8 539.5h177.5" stroke="#2a7fe0" stroke-opacity="0.39" stroke-width="1.7" stroke-dasharray="3 2 2 3 3 2 4 3 6 4 2 2"/>
<path d="M54.8 551.3h177.5" stroke="#2a7fe0" stroke-opacity="0.44" stroke-width="1.7" stroke-dasharray="4 3 2 4 4 3 2 3 4 2 3 2"/>
<path d="M54.8 560.1h177.5" stroke="#2a7fe0" stroke-opacity="0.43" stroke-width="1.7" stroke-dasharray="6 4 3 4 2 3 2 6 6 2 6 2"/>
<path d="M54.8 563h177.5" stroke="#2a7fe0" stroke-opacity="0.34" stroke-width="1.7" stroke-dasharray="3 2 3 6 4 6 4 4 6 2 4 4"/>
<path d="M54.8 574.7h177.5" stroke="#2a7fe0" stroke-opacity="0.34" stroke-width="1.7" stroke-dasharray="2 4 3 6 6 3 2 6 3 6 2 2"/>
<path d="M54.8 583.5h177.5" stroke="#2a7fe0" stroke-opacity="0.32" stroke-width="1.7" stroke-dasharray="4 6 3 3 2 2 3 6 2 4 3 3"/>
<path d="M54.8 589.4h177.5" stroke="#2a7fe0" stroke-opacity="0.25" stroke-width="1.7" stroke-dasharray="3 3 2 2 6 6 3 4 3 2 6 4"/>
<path d="M54.8 601.1h177.5" stroke="#2a7fe0" stroke-opacity="0.33" stroke-width="1.7" stroke-dasharray="6 2 3 3 6 3 6 3 3 2 6 3"/>
<path d="M54.8 609.9h177.5" stroke="#2a7fe0" stroke-opacity="0.31" stroke-width="1.7" stroke-dasharray="2 3 3 3 2 2 4 2 6 6 4 6"/>
<path d="M57.8 439.8v176" stroke="#2a7fe0" stroke-opacity="0.26" stroke-width="1.5" stroke-dasharray="3 8 8 5 8 8 3 2 2 8 8 3"/>
<path d="M63.7 439.8v176" stroke="#2a7fe0" stroke-opacity="0.27" stroke-width="1.5" stroke-dasharray="8 3 8 8 2 2 3 5 8 5 2 8"/>
<path d="M72.5 439.8v176" stroke="#2a7fe0" stroke-opacity="0.21" stroke-width="1.5" stroke-dasharray="2 2 3 2 5 2 2 8 3 2 2 2"/>
<path d="M75.5 439.8v176" stroke="#2a7fe0" stroke-opacity="0.23" stroke-width="1.5" stroke-dasharray="8 5 3 3 2 5 5 3 5 5 8 3"/>
<path d="M81.4 439.8v176" stroke="#2a7fe0" stroke-opacity="0.30" stroke-width="1.5" stroke-dasharray="8 3 5 3 5 5 2 3 3 8 3 5"/>
<path d="M84.4 439.8v176" stroke="#2a7fe0" stroke-opacity="0.25" stroke-width="1.5" stroke-dasharray="8 3 5 2 2 5 8 2 5 8 5 5"/>
<path d="M99.2 439.8v176" stroke="#2a7fe0" stroke-opacity="0.30" stroke-width="1.5" stroke-dasharray="5 3 5 5 2 8 3 3 2 5 5 5"/>
<path d="M102.1 439.8v176" stroke="#2a7fe0" stroke-opacity="0.22" stroke-width="1.5" stroke-dasharray="5 2 2 3 3 5 8 8 5 2 3 8"/>
<path d="M140.6 439.8v176" stroke="#2a7fe0" stroke-opacity="0.22" stroke-width="1.5" stroke-dasharray="2 2 2 2 5 5 2 5 3 8 5 3"/>
<path d="M143.6 439.8v176" stroke="#2a7fe0" stroke-opacity="0.33" stroke-width="1.5" stroke-dasharray="8 3 3 2 3 3 8 2 2 3 5 8"/>
<path d="M155.4 439.8v176" stroke="#2a7fe0" stroke-opacity="0.21" stroke-width="1.5" stroke-dasharray="2 2 5 8 8 3 3 2 2 2 2 8"/>
<path d="M161.3 439.8v176" stroke="#2a7fe0" stroke-opacity="0.23" stroke-width="1.5" stroke-dasharray="3 2 2 2 3 3 8 3 8 3 5 2"/>
<path d="M164.3 439.8v176" stroke="#2a7fe0" stroke-opacity="0.22" stroke-width="1.5" stroke-dasharray="2 8 2 8 8 8 2 8 3 3 2 5"/>
<path d="M179.1 439.8v176" stroke="#2a7fe0" stroke-opacity="0.21" stroke-width="1.5" stroke-dasharray="2 2 5 5 2 5 8 5 5 3 2 2"/>
<path d="M185 439.8v176" stroke="#2a7fe0" stroke-opacity="0.33" stroke-width="1.5" stroke-dasharray="3 3 3 5 3 8 5 3 8 8 8 2"/>
<path d="M187.9 439.8v176" stroke="#2a7fe0" stroke-opacity="0.29" stroke-width="1.5" stroke-dasharray="8 3 5 3 8 2 3 3 2 2 2 2"/>
<path d="M190.9 439.8v176" stroke="#2a7fe0" stroke-opacity="0.22" stroke-width="1.5" stroke-dasharray="3 5 3 2 2 2 3 2 2 2 2 5"/>
<path d="M193.8 439.8v176" stroke="#2a7fe0" stroke-opacity="0.20" stroke-width="1.5" stroke-dasharray="2 8 2 3 3 3 2 2 2 2 5 8"/>
<path d="M205.7 439.8v176" stroke="#2a7fe0" stroke-opacity="0.31" stroke-width="1.5" stroke-dasharray="2 3 5 5 5 8 5 2 5 5 5 2"/>
<path d="M211.6 439.8v176" stroke="#2a7fe0" stroke-opacity="0.28" stroke-width="1.5" stroke-dasharray="5 5 8 5 2 8 2 8 2 5 8 2"/>
<path d="M214.6 439.8v176" stroke="#2a7fe0" stroke-opacity="0.20" stroke-width="1.5" stroke-dasharray="3 2 5 3 8 2 3 5 2 2 5 8"/>
<path d="M217.5 439.8v176" stroke="#2a7fe0" stroke-opacity="0.27" stroke-width="1.5" stroke-dasharray="3 8 5 5 3 5 3 3 8 3 2 2"/>
</g>
<rect x="54.8" y="439.8" width="177.5" height="176" fill="none" stroke="#f0e8e8" stroke-width="1.2"/>
</g>
<g>
<rect x="307" y="456" width="176.3" height="175.5" fill="#000" filter="url(#fa2)"/>
<g filter="url(#soft)">
<path d="M307 461.9h176.3" stroke="#2a70e8" stroke-opacity="0.38" stroke-width="1.7" stroke-dasharray="3 3 4 6 3 3 4 4 3 3 3 4"/>
<path d="M307 473.6h176.3" stroke="#2a70e8" stroke-opacity="0.48" stroke-width="1.7" stroke-dasharray="4 3 3 4 3 4 2 3 2 3 6 3"/>
<path d="M307 476.5h176.3" stroke="#2a70e8" stroke-opacity="0.24" stroke-width="1.7" stroke-dasharray="4 4 6 4 3 2 2 4 3 6 6 2"/>
<path d="M307 488.2h176.3" stroke="#2a70e8" stroke-opacity="0.44" stroke-width="1.7" stroke-dasharray="6 3 4 6 2 3 4 6 2 3 6 6"/>
<path d="M307 496.9h176.3" stroke="#2a70e8" stroke-opacity="0.30" stroke-width="1.7" stroke-dasharray="3 3 2 6 6 4 4 2 6 3 6 3"/>
<path d="M307 499.9h176.3" stroke="#2a70e8" stroke-opacity="0.30" stroke-width="1.7" stroke-dasharray="6 6 6 2 6 3 4 2 6 6 2 2"/>
<path d="M307 505.7h176.3" stroke="#2a70e8" stroke-opacity="0.42" stroke-width="1.7" stroke-dasharray="3 3 3 4 2 6 3 6 2 4 4 6"/>
<path d="M307 514.5h176.3" stroke="#2a70e8" stroke-opacity="0.24" stroke-width="1.7" stroke-dasharray="6 3 3 6 2 4 2 4 4 6 6 2"/>
<path d="M307 517.4h176.3" stroke="#2a70e8" stroke-opacity="0.28" stroke-width="1.7" stroke-dasharray="6 6 4 4 2 3 4 6 3 6 6 3"/>
<path d="M307 523.3h176.3" stroke="#2a70e8" stroke-opacity="0.43" stroke-width="1.7" stroke-dasharray="2 3 6 3 3 4 6 6 4 3 6 4"/>
<path d="M307 526.2h176.3" stroke="#2a70e8" stroke-opacity="0.32" stroke-width="1.7" stroke-dasharray="3 4 6 4 6 3 6 2 4 4 3 4"/>
<path d="M307 529.1h176.3" stroke="#2a70e8" stroke-opacity="0.39" stroke-width="1.7" stroke-dasharray="6 6 2 4 3 4 6 2 2 4 3 4"/>
<path d="M307 532h176.3" stroke="#2a70e8" stroke-opacity="0.43" stroke-width="1.7" stroke-dasharray="2 2 3 2 4 4 2 3 3 3 6 4"/>
<path d="M307 537.9h176.3" stroke="#2a70e8" stroke-opacity="0.30" stroke-width="1.7" stroke-dasharray="3 6 3 2 4 3 6 3 2 6 2 2"/>
<path d="M307 543.8h176.3" stroke="#2a70e8" stroke-opacity="0.37" stroke-width="1.7" stroke-dasharray="3 3 6 6 2 6 6 3 6 3 6 3"/>
<path d="M307 552.5h176.3" stroke="#2a70e8" stroke-opacity="0.39" stroke-width="1.7" stroke-dasharray="2 3 4 6 6 4 6 4 6 6 2 3"/>
<path d="M307 558.4h176.3" stroke="#2a70e8" stroke-opacity="0.32" stroke-width="1.7" stroke-dasharray="2 2 2 4 2 6 6 3 2 3 6 3"/>
<path d="M307 561.3h176.3" stroke="#2a70e8" stroke-opacity="0.33" stroke-width="1.7" stroke-dasharray="4 4 6 3 4 6 4 6 4 2 4 4"/>
<path d="M307 575.9h176.3" stroke="#2a70e8" stroke-opacity="0.27" stroke-width="1.7" stroke-dasharray="6 6 4 4 4 3 6 2 4 3 4 4"/>
<path d="M307 578.9h176.3" stroke="#2a70e8" stroke-opacity="0.39" stroke-width="1.7" stroke-dasharray="2 2 6 6 2 6 4 2 2 2 3 6"/>
<path d="M307 587.6h176.3" stroke="#2a70e8" stroke-opacity="0.43" stroke-width="1.7" stroke-dasharray="2 6 3 2 3 2 6 3 2 3 2 6"/>
<path d="M307 590.5h176.3" stroke="#2a70e8" stroke-opacity="0.38" stroke-width="1.7" stroke-dasharray="2 4 3 4 4 4 3 6 2 4 2 6"/>
<path d="M307 596.4h176.3" stroke="#2a70e8" stroke-opacity="0.42" stroke-width="1.7" stroke-dasharray="2 6 2 2 6 6 6 2 2 6 3 6"/>
<path d="M307 602.2h176.3" stroke="#2a70e8" stroke-opacity="0.45" stroke-width="1.7" stroke-dasharray="2 2 6 3 3 2 6 2 2 2 2 3"/>
<path d="M307 605.2h176.3" stroke="#2a70e8" stroke-opacity="0.39" stroke-width="1.7" stroke-dasharray="3 6 2 4 3 6 3 2 4 3 2 4"/>
<path d="M307 616.9h176.3" stroke="#2a70e8" stroke-opacity="0.42" stroke-width="1.7" stroke-dasharray="6 6 4 2 2 2 2 2 2 6 4 4"/>
<path d="M315.8 456v175.5" stroke="#2a70e8" stroke-opacity="0.29" stroke-width="1.5" stroke-dasharray="3 8 2 5 5 8 8 3 3 2 5 3"/>
<path d="M333.4 456v175.5" stroke="#2a70e8" stroke-opacity="0.29" stroke-width="1.5" stroke-dasharray="8 8 8 8 5 5 5 5 2 5 2 3"/>
<path d="M336.4 456v175.5" stroke="#2a70e8" stroke-opacity="0.23" stroke-width="1.5" stroke-dasharray="5 8 3 8 8 8 3 8 5 2 5 5"/>
<path d="M339.3 456v175.5" stroke="#2a70e8" stroke-opacity="0.32" stroke-width="1.5" stroke-dasharray="3 2 5 3 3 5 8 5 2 8 8 3"/>
<path d="M357 456v175.5" stroke="#2a70e8" stroke-opacity="0.32" stroke-width="1.5" stroke-dasharray="3 5 2 8 8 3 5 2 8 8 2 5"/>
<path d="M368.7 456v175.5" stroke="#2a70e8" stroke-opacity="0.25" stroke-width="1.5" stroke-dasharray="3 8 5 5 8 3 3 3 3 2 3 5"/>
<path d="M374.6 456v175.5" stroke="#2a70e8" stroke-opacity="0.24" stroke-width="1.5" stroke-dasharray="5 8 3 3 2 8 5 2 5 8 2 3"/>
<path d="M392.2 456v175.5" stroke="#2a70e8" stroke-opacity="0.20" stroke-width="1.5" stroke-dasharray="2 5 5 2 2 2 3 8 3 5 5 8"/>
<path d="M395.1 456v175.5" stroke="#2a70e8" stroke-opacity="0.28" stroke-width="1.5" stroke-dasharray="8 3 5 2 5 3 3 8 2 2 2 2"/>
<path d="M406.9 456v175.5" stroke="#2a70e8" stroke-opacity="0.26" stroke-width="1.5" stroke-dasharray="8 8 2 8 2 2 5 5 3 2 8 3"/>
<path d="M409.8 456v175.5" stroke="#2a70e8" stroke-opacity="0.32" stroke-width="1.5" stroke-dasharray="3 5 3 3 3 2 5 5 2 2 2 5"/>
<path d="M412.8 456v175.5" stroke="#2a70e8" stroke-opacity="0.25" stroke-width="1.5" stroke-dasharray="8 2 2 3 5 2 3 5 8 2 8 5"/>
<path d="M418.7 456v175.5" stroke="#2a70e8" stroke-opacity="0.32" stroke-width="1.5" stroke-dasharray="8 2 5 8 8 3 8 3 3 2 8 3"/>
<path d="M421.6 456v175.5" stroke="#2a70e8" stroke-opacity="0.24" stroke-width="1.5" stroke-dasharray="3 3 2 5 3 8 2 8 2 2 8 5"/>
<path d="M430.4 456v175.5" stroke="#2a70e8" stroke-opacity="0.34" stroke-width="1.5" stroke-dasharray="3 8 2 5 3 5 3 2 3 8 3 8"/>
<path d="M433.3 456v175.5" stroke="#2a70e8" stroke-opacity="0.20" stroke-width="1.5" stroke-dasharray="5 8 8 3 3 2 5 5 5 3 5 8"/>
<path d="M436.3 456v175.5" stroke="#2a70e8" stroke-opacity="0.26" stroke-width="1.5" stroke-dasharray="8 8 2 3 2 3 8 5 2 5 3 5"/>
<path d="M439.2 456v175.5" stroke="#2a70e8" stroke-opacity="0.26" stroke-width="1.5" stroke-dasharray="5 3 3 2 8 5 8 3 2 5 3 2"/>
<path d="M445.1 456v175.5" stroke="#2a70e8" stroke-opacity="0.28" stroke-width="1.5" stroke-dasharray="5 3 8 2 5 3 5 8 2 8 3 5"/>
<path d="M451 456v175.5" stroke="#2a70e8" stroke-opacity="0.29" stroke-width="1.5" stroke-dasharray="3 3 3 3 3 2 2 8 5 3 3 3"/>
<path d="M468.6 456v175.5" stroke="#2a70e8" stroke-opacity="0.18" stroke-width="1.5" stroke-dasharray="3 5 3 2 2 8 2 5 5 5 8 2"/>
<path d="M471.5 456v175.5" stroke="#2a70e8" stroke-opacity="0.35" stroke-width="1.5" stroke-dasharray="8 3 5 3 3 5 2 3 5 2 5 8"/>
</g>
<rect x="329.9" y="456" width="4" height="175.5" fill="#2a70e8" fill-opacity="0.35"/>
<rect x="359.9" y="456" width="3" height="175.5" fill="#2a70e8" fill-opacity="0.3"/>
<rect x="412.8" y="456" width="3" height="175.5" fill="#2a70e8" fill-opacity="0.3"/>
<rect x="462.1" y="456" width="3" height="175.5" fill="#2a70e8" fill-opacity="0.3"/>
<rect x="307" y="494.6" width="176.3" height="3" fill="#2a70e8" fill-opacity="0.25"/>
<rect x="307" y="552.5" width="176.3" height="4" fill="#2a70e8" fill-opacity="0.3"/>
<rect x="307" y="543.8" width="176.3" height="2" fill="#2a70e8" fill-opacity="0.25"/>
</g>
<g>
<rect x="329.3" y="475.7" width="177.5" height="176" fill="#000" filter="url(#fa2)"/>
<g filter="url(#soft)">
<path d="M329.3 481.6h177.5" stroke="#2a70e8" stroke-opacity="0.34" stroke-width="1.7" stroke-dasharray="4 2 3 2 4 2 6 6 4 2 2 2"/>
<path d="M329.3 487.4h177.5" stroke="#2a70e8" stroke-opacity="0.47" stroke-width="1.7" stroke-dasharray="3 3 3 3 6 6 3 2 6 6 2 6"/>
<path d="M329.3 490.4h177.5" stroke="#2a70e8" stroke-opacity="0.47" stroke-width="1.7" stroke-dasharray="2 4 4 6 3 4 6 4 6 2 4 3"/>
<path d="M329.3 493.3h177.5" stroke="#2a70e8" stroke-opacity="0.29" stroke-width="1.7" stroke-dasharray="4 3 6 2 4 2 3 2 4 6 3 2"/>
<path d="M329.3 496.2h177.5" stroke="#2a70e8" stroke-opacity="0.36" stroke-width="1.7" stroke-dasharray="6 6 6 2 2 2 4 4 2 2 4 2"/>
<path d="M329.3 499.2h177.5" stroke="#2a70e8" stroke-opacity="0.35" stroke-width="1.7" stroke-dasharray="6 3 2 4 2 4 4 3 2 2 4 2"/>
<path d="M329.3 502.1h177.5" stroke="#2a70e8" stroke-opacity="0.39" stroke-width="1.7" stroke-dasharray="3 6 2 3 4 6 4 4 3 2 4 6"/>
<path d="M329.3 510.9h177.5" stroke="#2a70e8" stroke-opacity="0.29" stroke-width="1.7" stroke-dasharray="3 6 3 4 6 4 6 6 4 2 3 4"/>
<path d="M329.3 519.7h177.5" stroke="#2a70e8" stroke-opacity="0.31" stroke-width="1.7" stroke-dasharray="6 6 2 4 3 3 4 4 6 4 4 3"/>
<path d="M329.3 522.6h177.5" stroke="#2a70e8" stroke-opacity="0.34" stroke-width="1.7" stroke-dasharray="2 3 2 4 6 2 6 6 4 2 3 3"/>
<path d="M329.3 531.4h177.5" stroke="#2a70e8" stroke-opacity="0.42" stroke-width="1.7" stroke-dasharray="4 3 3 4 2 6 4 3 6 2 2 6"/>
<path d="M329.3 537.3h177.5" stroke="#2a70e8" stroke-opacity="0.31" stroke-width="1.7" stroke-dasharray="2 6 6 3 6 4 2 6 6 6 4 4"/>
<path d="M329.3 543.2h177.5" stroke="#2a70e8" stroke-opacity="0.38" stroke-width="1.7" stroke-dasharray="6 6 4 2 6 6 6 4 3 4 3 6"/>
<path d="M329.3 549h177.5" stroke="#2a70e8" stroke-opacity="0.38" stroke-width="1.7" stroke-dasharray="3 2 4 4 3 4 3 6 2 2 2 4"/>
<path d="M329.3 560.8h177.5" stroke="#2a70e8" stroke-opacity="0.40" stroke-width="1.7" stroke-dasharray="6 4 4 6 6 6 6 4 2 4 6 2"/>
<path d="M329.3 569.6h177.5" stroke="#2a70e8" stroke-opacity="0.41" stroke-width="1.7" stroke-dasharray="3 2 6 4 6 3 3 6 6 6 6 4"/>
<path d="M329.3 572.5h177.5" stroke="#2a70e8" stroke-opacity="0.39" stroke-width="1.7" stroke-dasharray="2 3 4 4 4 2 4 3 2 4 4 6"/>
<path d="M329.3 575.4h177.5" stroke="#2a70e8" stroke-opacity="0.31" stroke-width="1.7" stroke-dasharray="4 3 3 6 3 2 2 4 2 6 2 2"/>
<path d="M329.3 578.4h177.5" stroke="#2a70e8" stroke-opacity="0.34" stroke-width="1.7" stroke-dasharray="2 4 6 2 2 2 3 3 6 4 3 3"/>
<path d="M329.3 584.2h177.5" stroke="#2a70e8" stroke-opacity="0.40" stroke-width="1.7" stroke-dasharray="2 3 3 2 2 2 2 3 6 6 6 2"/>
<path d="M329.3 596h177.5" stroke="#2a70e8" stroke-opacity="0.35" stroke-width="1.7" stroke-dasharray="4 3 3 4 4 3 2 4 2 2 4 3"/>
<path d="M329.3 610.6h177.5" stroke="#2a70e8" stroke-opacity="0.28" stroke-width="1.7" stroke-dasharray="6 2 2 3 6 2 6 2 3 3 3 2"/>
<path d="M329.3 622.4h177.5" stroke="#2a70e8" stroke-opacity="0.34" stroke-width="1.7" stroke-dasharray="3 4 2 6 4 6 4 6 2 3 6 3"/>
<path d="M329.3 631.2h177.5" stroke="#2a70e8" stroke-opacity="0.34" stroke-width="1.7" stroke-dasharray="6 6 2 3 2 3 3 4 6 3 2 4"/>
<path d="M329.3 634.1h177.5" stroke="#2a70e8" stroke-opacity="0.29" stroke-width="1.7" stroke-dasharray="4 2 4 6 4 6 2 2 6 4 3 6"/>
<path d="M329.3 637h177.5" stroke="#2a70e8" stroke-opacity="0.29" stroke-width="1.7" stroke-dasharray="4 4 3 6 2 4 2 4 3 3 3 2"/>
<path d="M335.2 475.7v176" stroke="#2a70e8" stroke-opacity="0.35" stroke-width="1.5" stroke-dasharray="3 8 8 3 3 5 5 3 8 8 3 5"/>
<path d="M350 475.7v176" stroke="#2a70e8" stroke-opacity="0.30" stroke-width="1.5" stroke-dasharray="3 3 8 3 5 8 5 3 8 3 3 2"/>
<path d="M361.8 475.7v176" stroke="#2a70e8" stroke-opacity="0.21" stroke-width="1.5" stroke-dasharray="2 5 8 2 3 5 2 8 2 3 3 5"/>
<path d="M367.8 475.7v176" stroke="#2a70e8" stroke-opacity="0.23" stroke-width="1.5" stroke-dasharray="2 2 5 5 3 2 5 2 3 5 3 8"/>
<path d="M376.6 475.7v176" stroke="#2a70e8" stroke-opacity="0.36" stroke-width="1.5" stroke-dasharray="8 8 3 5 3 2 5 5 8 2 8 3"/>
<path d="M379.6 475.7v176" stroke="#2a70e8" stroke-opacity="0.26" stroke-width="1.5" stroke-dasharray="8 5 2 3 5 2 5 3 2 8 2 3"/>
<path d="M388.5 475.7v176" stroke="#2a70e8" stroke-opacity="0.20" stroke-width="1.5" stroke-dasharray="5 3 8 2 5 3 3 8 5 8 5 2"/>
<path d="M415.1 475.7v176" stroke="#2a70e8" stroke-opacity="0.36" stroke-width="1.5" stroke-dasharray="5 2 2 3 2 2 5 3 5 2 8 8"/>
<path d="M418.1 475.7v176" stroke="#2a70e8" stroke-opacity="0.27" stroke-width="1.5" stroke-dasharray="3 5 2 5 8 8 5 8 2 3 8 3"/>
<path d="M429.9 475.7v176" stroke="#2a70e8" stroke-opacity="0.25" stroke-width="1.5" stroke-dasharray="3 2 5 3 3 3 5 3 2 3 5 5"/>
<path d="M435.8 475.7v176" stroke="#2a70e8" stroke-opacity="0.31" stroke-width="1.5" stroke-dasharray="3 5 3 3 8 8 3 3 2 8 3 5"/>
<path d="M438.8 475.7v176" stroke="#2a70e8" stroke-opacity="0.30" stroke-width="1.5" stroke-dasharray="3 3 3 5 2 8 3 3 8 8 3 2"/>
<path d="M444.7 475.7v176" stroke="#2a70e8" stroke-opacity="0.35" stroke-width="1.5" stroke-dasharray="2 5 8 3 2 2 5 5 3 2 5 8"/>
<path d="M450.6 475.7v176" stroke="#2a70e8" stroke-opacity="0.20" stroke-width="1.5" stroke-dasharray="3 5 8 8 5 5 3 2 2 2 8 8"/>
<path d="M462.4 475.7v176" stroke="#2a70e8" stroke-opacity="0.29" stroke-width="1.5" stroke-dasharray="5 5 2 8 8 8 3 5 2 5 2 5"/>
<path d="M471.3 475.7v176" stroke="#2a70e8" stroke-opacity="0.20" stroke-width="1.5" stroke-dasharray="5 3 2 3 2 2 8 3 5 5 3 3"/>
<path d="M477.2 475.7v176" stroke="#2a70e8" stroke-opacity="0.19" stroke-width="1.5" stroke-dasharray="5 5 8 3 5 5 3 5 3 5 5 3"/>
<path d="M480.2 475.7v176" stroke="#2a70e8" stroke-opacity="0.21" stroke-width="1.5" stroke-dasharray="2 8 2 3 8 8 8 3 5 2 3 3"/>
<path d="M483.1 475.7v176" stroke="#2a70e8" stroke-opacity="0.21" stroke-width="1.5" stroke-dasharray="8 8 2 2 8 8 3 3 5 2 2 8"/>
<path d="M486.1 475.7v176" stroke="#2a70e8" stroke-opacity="0.26" stroke-width="1.5" stroke-dasharray="2 2 8 5 2 8 2 3 3 8 5 2"/>
<path d="M492 475.7v176" stroke="#2a70e8" stroke-opacity="0.29" stroke-width="1.5" stroke-dasharray="5 3 8 2 5 8 8 3 8 2 2 5"/>
<path d="M497.9 475.7v176" stroke="#2a70e8" stroke-opacity="0.21" stroke-width="1.5" stroke-dasharray="5 8 5 8 3 5 5 2 3 3 8 2"/>
</g>
<rect x="352.4" y="475.7" width="4" height="176" fill="#2a70e8" fill-opacity="0.35"/>
<rect x="382.6" y="475.7" width="3" height="176" fill="#2a70e8" fill-opacity="0.3"/>
<rect x="435.8" y="475.7" width="3" height="176" fill="#2a70e8" fill-opacity="0.3"/>
<rect x="485.5" y="475.7" width="3" height="176" fill="#2a70e8" fill-opacity="0.3"/>
<rect x="329.3" y="514.4" width="177.5" height="3" fill="#2a70e8" fill-opacity="0.25"/>
<rect x="329.3" y="572.5" width="177.5" height="4" fill="#2a70e8" fill-opacity="0.3"/>
<rect x="329.3" y="563.7" width="177.5" height="2" fill="#2a70e8" fill-opacity="0.25"/>
<rect x="329.3" y="475.7" width="177.5" height="176" fill="none" stroke="#f0e8e8" stroke-width="1.2"/>
</g>
<g>
<rect x="717.7" y="421.4" width="178.9" height="179.3" fill="#000" filter="url(#ft1)"/>
<g filter="url(#soft)">
<path d="M717.7 442.3h178.9" stroke="#2a80e8" stroke-opacity="0.19" stroke-width="1.7" stroke-dasharray="2 6 6 3 3 6 2 3 4 2 6 3"/>
<path d="M717.7 445.3h178.9" stroke="#2a80e8" stroke-opacity="0.21" stroke-width="1.7" stroke-dasharray="2 2 3 6 4 2 3 6 2 3 2 4"/>
<path d="M717.7 457.3h178.9" stroke="#2a80e8" stroke-opacity="0.28" stroke-width="1.7" stroke-dasharray="4 2 4 2 3 4 4 6 2 4 2 4"/>
<path d="M717.7 460.2h178.9" stroke="#2a80e8" stroke-opacity="0.20" stroke-width="1.7" stroke-dasharray="2 2 3 4 4 3 6 2 6 2 2 6"/>
<path d="M717.7 466.2h178.9" stroke="#2a80e8" stroke-opacity="0.36" stroke-width="1.7" stroke-dasharray="4 3 3 4 6 3 4 4 6 2 2 4"/>
<path d="M717.7 469.2h178.9" stroke="#2a80e8" stroke-opacity="0.34" stroke-width="1.7" stroke-dasharray="6 6 2 2 2 3 6 6 3 6 6 3"/>
<path d="M717.7 472.2h178.9" stroke="#2a80e8" stroke-opacity="0.28" stroke-width="1.7" stroke-dasharray="2 4 4 3 4 3 2 3 3 4 6 4"/>
<path d="M717.7 493.1h178.9" stroke="#2a80e8" stroke-opacity="0.29" stroke-width="1.7" stroke-dasharray="6 4 4 2 4 6 4 3 2 3 6 2"/>
<path d="M717.7 499.1h178.9" stroke="#2a80e8" stroke-opacity="0.29" stroke-width="1.7" stroke-dasharray="3 4 6 4 2 4 4 3 2 2 3 6"/>
<path d="M717.7 502.1h178.9" stroke="#2a80e8" stroke-opacity="0.24" stroke-width="1.7" stroke-dasharray="2 4 4 3 3 2 4 4 4 3 4 6"/>
<path d="M717.7 508.1h178.9" stroke="#2a80e8" stroke-opacity="0.25" stroke-width="1.7" stroke-dasharray="4 4 6 4 3 3 4 3 3 3 2 6"/>
<path d="M717.7 517h178.9" stroke="#2a80e8" stroke-opacity="0.29" stroke-width="1.7" stroke-dasharray="6 4 3 2 3 4 4 4 4 2 3 2"/>
<path d="M717.7 523h178.9" stroke="#2a80e8" stroke-opacity="0.32" stroke-width="1.7" stroke-dasharray="4 4 6 4 6 2 6 4 3 4 4 2"/>
<path d="M717.7 529h178.9" stroke="#2a80e8" stroke-opacity="0.31" stroke-width="1.7" stroke-dasharray="4 3 2 3 2 6 6 3 4 2 3 3"/>
<path d="M717.7 532h178.9" stroke="#2a80e8" stroke-opacity="0.22" stroke-width="1.7" stroke-dasharray="3 2 2 2 4 3 2 3 4 2 4 2"/>
<path d="M717.7 535h178.9" stroke="#2a80e8" stroke-opacity="0.36" stroke-width="1.7" stroke-dasharray="4 2 6 6 4 3 2 6 2 2 4 6"/>
<path d="M717.7 537.9h178.9" stroke="#2a80e8" stroke-opacity="0.18" stroke-width="1.7" stroke-dasharray="6 4 6 2 2 4 4 2 6 4 3 2"/>
<path d="M717.7 540.9h178.9" stroke="#2a80e8" stroke-opacity="0.32" stroke-width="1.7" stroke-dasharray="3 3 2 4 4 6 4 3 4 3 4 6"/>
<path d="M717.7 549.9h178.9" stroke="#2a80e8" stroke-opacity="0.36" stroke-width="1.7" stroke-dasharray="4 6 4 4 4 3 4 2 6 2 4 3"/>
<path d="M717.7 555.9h178.9" stroke="#2a80e8" stroke-opacity="0.34" stroke-width="1.7" stroke-dasharray="3 6 2 2 3 2 2 3 3 4 4 3"/>
<path d="M717.7 558.9h178.9" stroke="#2a80e8" stroke-opacity="0.32" stroke-width="1.7" stroke-dasharray="3 2 4 3 6 6 3 4 6 6 3 4"/>
<path d="M717.7 561.9h178.9" stroke="#2a80e8" stroke-opacity="0.19" stroke-width="1.7" stroke-dasharray="2 2 2 2 6 4 2 3 6 6 6 3"/>
<path d="M717.7 576.8h178.9" stroke="#2a80e8" stroke-opacity="0.22" stroke-width="1.7" stroke-dasharray="2 4 6 3 3 4 3 4 6 4 4 6"/>
<path d="M717.7 588.7h178.9" stroke="#2a80e8" stroke-opacity="0.24" stroke-width="1.7" stroke-dasharray="3 6 4 3 4 4 2 4 2 6 3 3"/>
<path d="M717.7 591.7h178.9" stroke="#2a80e8" stroke-opacity="0.32" stroke-width="1.7" stroke-dasharray="6 3 2 3 4 2 6 3 6 3 4 2"/>
<path d="M717.7 594.7h178.9" stroke="#2a80e8" stroke-opacity="0.24" stroke-width="1.7" stroke-dasharray="3 2 3 4 3 4 2 3 6 6 2 6"/>
<path d="M732.6 421.4v179.3" stroke="#2a80e8" stroke-opacity="0.13" stroke-width="1.5" stroke-dasharray="8 5 2 3 3 2 2 3 3 8 2 2"/>
<path d="M735.6 421.4v179.3" stroke="#2a80e8" stroke-opacity="0.18" stroke-width="1.5" stroke-dasharray="5 2 2 2 8 3 8 2 3 3 3 2"/>
<path d="M741.6 421.4v179.3" stroke="#2a80e8" stroke-opacity="0.24" stroke-width="1.5" stroke-dasharray="8 2 5 3 3 2 5 3 2 5 5 2"/>
<path d="M744.5 421.4v179.3" stroke="#2a80e8" stroke-opacity="0.24" stroke-width="1.5" stroke-dasharray="3 2 8 5 5 2 5 2 8 5 5 8"/>
<path d="M762.4 421.4v179.3" stroke="#2a80e8" stroke-opacity="0.15" stroke-width="1.5" stroke-dasharray="5 8 8 5 8 8 3 8 8 8 3 2"/>
<path d="M798.2 421.4v179.3" stroke="#2a80e8" stroke-opacity="0.17" stroke-width="1.5" stroke-dasharray="5 8 3 3 2 2 2 2 8 5 8 5"/>
<path d="M804.2 421.4v179.3" stroke="#2a80e8" stroke-opacity="0.13" stroke-width="1.5" stroke-dasharray="2 8 8 5 8 3 8 5 2 8 5 5"/>
<path d="M807.2 421.4v179.3" stroke="#2a80e8" stroke-opacity="0.22" stroke-width="1.5" stroke-dasharray="3 5 5 8 5 8 3 3 2 5 3 3"/>
<path d="M816.1 421.4v179.3" stroke="#2a80e8" stroke-opacity="0.14" stroke-width="1.5" stroke-dasharray="3 3 3 8 3 2 5 8 5 8 2 8"/>
<path d="M822.1 421.4v179.3" stroke="#2a80e8" stroke-opacity="0.20" stroke-width="1.5" stroke-dasharray="5 8 2 5 5 5 8 2 5 8 5 8"/>
<path d="M825 421.4v179.3" stroke="#2a80e8" stroke-opacity="0.15" stroke-width="1.5" stroke-dasharray="8 8 3 3 2 3 5 8 3 5 5 8"/>
<path d="M828 421.4v179.3" stroke="#2a80e8" stroke-opacity="0.13" stroke-width="1.5" stroke-dasharray="3 2 5 2 3 5 5 5 5 3 5 8"/>
<path d="M831 421.4v179.3" stroke="#2a80e8" stroke-opacity="0.21" stroke-width="1.5" stroke-dasharray="8 2 3 3 8 5 5 2 8 8 5 2"/>
<path d="M834 421.4v179.3" stroke="#2a80e8" stroke-opacity="0.16" stroke-width="1.5" stroke-dasharray="5 8 8 5 5 3 8 3 3 5 2 3"/>
<path d="M839.9 421.4v179.3" stroke="#2a80e8" stroke-opacity="0.17" stroke-width="1.5" stroke-dasharray="2 2 8 8 8 8 8 2 2 8 8 8"/>
<path d="M848.9 421.4v179.3" stroke="#2a80e8" stroke-opacity="0.23" stroke-width="1.5" stroke-dasharray="8 3 2 8 8 8 3 2 3 3 8 2"/>
<path d="M851.9 421.4v179.3" stroke="#2a80e8" stroke-opacity="0.22" stroke-width="1.5" stroke-dasharray="5 5 8 8 2 2 3 2 2 2 8 2"/>
<path d="M860.8 421.4v179.3" stroke="#2a80e8" stroke-opacity="0.16" stroke-width="1.5" stroke-dasharray="3 8 2 3 5 8 2 8 3 8 2 3"/>
<path d="M866.8 421.4v179.3" stroke="#2a80e8" stroke-opacity="0.20" stroke-width="1.5" stroke-dasharray="3 2 3 5 5 2 5 8 5 5 8 8"/>
<path d="M872.7 421.4v179.3" stroke="#2a80e8" stroke-opacity="0.23" stroke-width="1.5" stroke-dasharray="5 5 3 8 8 5 5 3 3 2 3 5"/>
<path d="M878.7 421.4v179.3" stroke="#2a80e8" stroke-opacity="0.12" stroke-width="1.5" stroke-dasharray="8 3 5 5 3 8 2 5 2 2 8 5"/>
<path d="M890.6 421.4v179.3" stroke="#2a80e8" stroke-opacity="0.17" stroke-width="1.5" stroke-dasharray="3 8 5 3 3 8 8 8 3 3 2 3"/>
</g>
</g>
<g>
<rect x="741.5" y="439" width="179.3" height="179.6" fill="#000" filter="url(#ft1)"/>
<g filter="url(#soft)">
<path d="M741.5 442h179.3" stroke="#2a80e8" stroke-opacity="0.30" stroke-width="1.7" stroke-dasharray="3 4 4 4 3 3 3 6 2 4 6 3"/>
<path d="M741.5 451h179.3" stroke="#2a80e8" stroke-opacity="0.20" stroke-width="1.7" stroke-dasharray="3 2 3 6 3 3 6 4 6 2 2 4"/>
<path d="M741.5 454h179.3" stroke="#2a80e8" stroke-opacity="0.29" stroke-width="1.7" stroke-dasharray="3 2 4 6 4 2 6 2 3 6 4 4"/>
<path d="M741.5 460h179.3" stroke="#2a80e8" stroke-opacity="0.35" stroke-width="1.7" stroke-dasharray="2 3 3 6 4 3 4 2 2 2 4 3"/>
<path d="M741.5 462.9h179.3" stroke="#2a80e8" stroke-opacity="0.32" stroke-width="1.7" stroke-dasharray="4 2 3 4 4 6 6 3 4 4 3 2"/>
<path d="M741.5 465.9h179.3" stroke="#2a80e8" stroke-opacity="0.25" stroke-width="1.7" stroke-dasharray="4 2 6 2 2 3 6 6 2 2 2 2"/>
<path d="M741.5 468.9h179.3" stroke="#2a80e8" stroke-opacity="0.23" stroke-width="1.7" stroke-dasharray="3 6 4 2 4 3 4 3 2 4 2 6"/>
<path d="M741.5 471.9h179.3" stroke="#2a80e8" stroke-opacity="0.21" stroke-width="1.7" stroke-dasharray="4 2 2 3 2 3 6 4 2 4 6 3"/>
<path d="M741.5 474.9h179.3" stroke="#2a80e8" stroke-opacity="0.20" stroke-width="1.7" stroke-dasharray="2 4 4 3 4 6 3 3 3 3 2 2"/>
<path d="M741.5 477.9h179.3" stroke="#2a80e8" stroke-opacity="0.23" stroke-width="1.7" stroke-dasharray="2 6 3 3 2 3 3 4 2 6 6 2"/>
<path d="M741.5 480.9h179.3" stroke="#2a80e8" stroke-opacity="0.29" stroke-width="1.7" stroke-dasharray="2 2 3 3 3 2 3 2 4 2 2 3"/>
<path d="M741.5 483.9h179.3" stroke="#2a80e8" stroke-opacity="0.32" stroke-width="1.7" stroke-dasharray="3 4 4 2 6 3 2 4 6 6 2 2"/>
<path d="M741.5 495.9h179.3" stroke="#2a80e8" stroke-opacity="0.19" stroke-width="1.7" stroke-dasharray="3 3 3 4 3 3 3 3 4 2 2 6"/>
<path d="M741.5 528.8h179.3" stroke="#2a80e8" stroke-opacity="0.20" stroke-width="1.7" stroke-dasharray="4 2 2 3 2 4 6 2 4 3 6 6"/>
<path d="M741.5 534.8h179.3" stroke="#2a80e8" stroke-opacity="0.22" stroke-width="1.7" stroke-dasharray="4 2 6 3 6 6 4 2 2 4 3 3"/>
<path d="M741.5 540.8h179.3" stroke="#2a80e8" stroke-opacity="0.30" stroke-width="1.7" stroke-dasharray="6 3 6 2 6 6 4 6 6 2 3 4"/>
<path d="M741.5 543.8h179.3" stroke="#2a80e8" stroke-opacity="0.21" stroke-width="1.7" stroke-dasharray="6 4 2 4 6 2 2 6 6 6 4 6"/>
<path d="M741.5 546.8h179.3" stroke="#2a80e8" stroke-opacity="0.25" stroke-width="1.7" stroke-dasharray="3 2 4 6 6 2 4 4 2 4 3 6"/>
<path d="M741.5 555.7h179.3" stroke="#2a80e8" stroke-opacity="0.22" stroke-width="1.7" stroke-dasharray="3 2 3 2 6 3 6 4 4 3 4 3"/>
<path d="M741.5 561.7h179.3" stroke="#2a80e8" stroke-opacity="0.26" stroke-width="1.7" stroke-dasharray="6 4 6 4 3 3 6 2 2 3 2 3"/>
<path d="M741.5 564.7h179.3" stroke="#2a80e8" stroke-opacity="0.25" stroke-width="1.7" stroke-dasharray="4 4 2 6 3 4 6 2 4 6 4 4"/>
<path d="M741.5 576.7h179.3" stroke="#2a80e8" stroke-opacity="0.31" stroke-width="1.7" stroke-dasharray="6 2 6 6 4 2 2 2 6 6 4 3"/>
<path d="M741.5 579.7h179.3" stroke="#2a80e8" stroke-opacity="0.31" stroke-width="1.7" stroke-dasharray="6 2 4 6 3 2 4 3 3 2 6 3"/>
<path d="M741.5 582.7h179.3" stroke="#2a80e8" stroke-opacity="0.21" stroke-width="1.7" stroke-dasharray="4 3 4 2 6 6 2 6 6 4 4 4"/>
<path d="M741.5 591.7h179.3" stroke="#2a80e8" stroke-opacity="0.35" stroke-width="1.7" stroke-dasharray="6 2 4 3 3 2 3 4 3 4 2 4"/>
<path d="M741.5 597.6h179.3" stroke="#2a80e8" stroke-opacity="0.25" stroke-width="1.7" stroke-dasharray="4 3 4 4 6 3 4 6 6 2 4 4"/>
<path d="M750.5 439v179.6" stroke="#2a80e8" stroke-opacity="0.21" stroke-width="1.5" stroke-dasharray="8 8 5 2 3 8 8 3 5 2 3 5"/>
<path d="M753.5 439v179.6" stroke="#2a80e8" stroke-opacity="0.12" stroke-width="1.5" stroke-dasharray="8 8 2 5 8 5 8 5 2 5 8 2"/>
<path d="M759.4 439v179.6" stroke="#2a80e8" stroke-opacity="0.24" stroke-width="1.5" stroke-dasharray="5 5 5 5 3 2 2 8 2 5 3 3"/>
<path d="M768.4 439v179.6" stroke="#2a80e8" stroke-opacity="0.20" stroke-width="1.5" stroke-dasharray="2 8 8 5 8 8 8 5 5 3 3 8"/>
<path d="M771.4 439v179.6" stroke="#2a80e8" stroke-opacity="0.19" stroke-width="1.5" stroke-dasharray="5 3 3 5 2 8 2 2 3 8 8 3"/>
<path d="M774.4 439v179.6" stroke="#2a80e8" stroke-opacity="0.19" stroke-width="1.5" stroke-dasharray="5 3 3 3 3 2 5 2 8 5 3 8"/>
<path d="M786.3 439v179.6" stroke="#2a80e8" stroke-opacity="0.13" stroke-width="1.5" stroke-dasharray="5 2 5 3 3 5 2 5 2 5 2 2"/>
<path d="M792.3 439v179.6" stroke="#2a80e8" stroke-opacity="0.13" stroke-width="1.5" stroke-dasharray="5 3 2 8 3 8 5 2 8 2 2 8"/>
<path d="M798.3 439v179.6" stroke="#2a80e8" stroke-opacity="0.22" stroke-width="1.5" stroke-dasharray="3 5 5 5 3 3 3 5 2 3 3 2"/>
<path d="M804.3 439v179.6" stroke="#2a80e8" stroke-opacity="0.22" stroke-width="1.5" stroke-dasharray="5 8 5 2 5 2 2 8 8 8 3 2"/>
<path d="M822.2 439v179.6" stroke="#2a80e8" stroke-opacity="0.17" stroke-width="1.5" stroke-dasharray="5 5 2 8 3 8 8 8 3 5 3 2"/>
<path d="M825.2 439v179.6" stroke="#2a80e8" stroke-opacity="0.13" stroke-width="1.5" stroke-dasharray="5 3 2 2 8 3 3 5 3 5 2 2"/>
<path d="M828.2 439v179.6" stroke="#2a80e8" stroke-opacity="0.20" stroke-width="1.5" stroke-dasharray="3 8 2 5 5 3 5 5 5 2 2 3"/>
<path d="M855.1 439v179.6" stroke="#2a80e8" stroke-opacity="0.22" stroke-width="1.5" stroke-dasharray="8 2 8 2 5 2 3 5 8 8 2 5"/>
<path d="M870 439v179.6" stroke="#2a80e8" stroke-opacity="0.21" stroke-width="1.5" stroke-dasharray="8 3 2 5 8 3 5 5 2 3 5 8"/>
<path d="M873 439v179.6" stroke="#2a80e8" stroke-opacity="0.18" stroke-width="1.5" stroke-dasharray="8 3 8 3 3 2 2 3 8 2 2 2"/>
<path d="M876 439v179.6" stroke="#2a80e8" stroke-opacity="0.17" stroke-width="1.5" stroke-dasharray="2 3 2 5 5 8 8 3 2 3 3 5"/>
<path d="M879 439v179.6" stroke="#2a80e8" stroke-opacity="0.20" stroke-width="1.5" stroke-dasharray="2 2 3 3 8 8 8 2 2 8 3 8"/>
<path d="M890.9 439v179.6" stroke="#2a80e8" stroke-opacity="0.19" stroke-width="1.5" stroke-dasharray="3 8 8 3 2 8 8 2 3 3 2 8"/>
<path d="M893.9 439v179.6" stroke="#2a80e8" stroke-opacity="0.21" stroke-width="1.5" stroke-dasharray="3 2 3 2 3 2 2 8 2 8 3 3"/>
<path d="M902.9 439v179.6" stroke="#2a80e8" stroke-opacity="0.22" stroke-width="1.5" stroke-dasharray="2 8 5 2 3 8 2 8 2 2 3 3"/>
<path d="M908.8 439v179.6" stroke="#2a80e8" stroke-opacity="0.17" stroke-width="1.5" stroke-dasharray="3 5 2 8 2 2 2 2 2 2 5 8"/>
</g>
<rect x="741.5" y="439" width="179.3" height="179.6" fill="none" stroke="#f0e8e8" stroke-width="1.2"/>
</g>
<g>
<rect x="995.6" y="456.4" width="178.7" height="179.3" fill="#000" filter="url(#ft2)"/>
<g filter="url(#soft)">
<path d="M995.6 459.4h178.7" stroke="#2a90e0" stroke-opacity="0.30" stroke-width="1.7" stroke-dasharray="6 3 2 2 2 2 3 6 2 3 4 6"/>
<path d="M995.6 462.4h178.7" stroke="#2a90e0" stroke-opacity="0.42" stroke-width="1.7" stroke-dasharray="3 4 4 4 2 4 6 2 3 6 3 6"/>
<path d="M995.6 474.3h178.7" stroke="#2a90e0" stroke-opacity="0.45" stroke-width="1.7" stroke-dasharray="4 4 3 2 6 2 4 3 4 4 2 3"/>
<path d="M995.6 477.3h178.7" stroke="#2a90e0" stroke-opacity="0.29" stroke-width="1.7" stroke-dasharray="2 3 2 2 4 6 4 4 2 2 6 3"/>
<path d="M995.6 480.3h178.7" stroke="#2a90e0" stroke-opacity="0.39" stroke-width="1.7" stroke-dasharray="2 3 6 2 3 3 4 2 4 6 2 3"/>
<path d="M995.6 492.3h178.7" stroke="#2a90e0" stroke-opacity="0.38" stroke-width="1.7" stroke-dasharray="3 4 6 3 4 4 2 2 3 4 3 2"/>
<path d="M995.6 498.2h178.7" stroke="#2a90e0" stroke-opacity="0.40" stroke-width="1.7" stroke-dasharray="6 4 2 2 2 2 2 4 2 3 2 6"/>
<path d="M995.6 504.2h178.7" stroke="#2a90e0" stroke-opacity="0.32" stroke-width="1.7" stroke-dasharray="4 6 3 2 4 4 6 6 3 6 2 6"/>
<path d="M995.6 525.1h178.7" stroke="#2a90e0" stroke-opacity="0.46" stroke-width="1.7" stroke-dasharray="3 2 6 3 2 3 4 4 4 2 3 2"/>
<path d="M995.6 540.1h178.7" stroke="#2a90e0" stroke-opacity="0.38" stroke-width="1.7" stroke-dasharray="3 4 4 3 2 3 6 2 2 6 4 2"/>
<path d="M995.6 546h178.7" stroke="#2a90e0" stroke-opacity="0.43" stroke-width="1.7" stroke-dasharray="3 2 2 4 2 4 3 4 4 3 3 4"/>
<path d="M995.6 555h178.7" stroke="#2a90e0" stroke-opacity="0.45" stroke-width="1.7" stroke-dasharray="4 4 4 3 2 3 3 4 6 2 3 3"/>
<path d="M995.6 558h178.7" stroke="#2a90e0" stroke-opacity="0.25" stroke-width="1.7" stroke-dasharray="6 4 3 6 4 2 2 2 6 4 3 4"/>
<path d="M995.6 561h178.7" stroke="#2a90e0" stroke-opacity="0.46" stroke-width="1.7" stroke-dasharray="6 6 2 2 6 6 2 6 2 6 6 3"/>
<path d="M995.6 564h178.7" stroke="#2a90e0" stroke-opacity="0.37" stroke-width="1.7" stroke-dasharray="6 6 2 2 3 2 4 4 6 6 3 4"/>
<path d="M995.6 567h178.7" stroke="#2a90e0" stroke-opacity="0.29" stroke-width="1.7" stroke-dasharray="2 3 6 3 6 2 2 6 2 3 3 4"/>
<path d="M995.6 575.9h178.7" stroke="#2a90e0" stroke-opacity="0.40" stroke-width="1.7" stroke-dasharray="2 6 4 6 6 3 2 6 4 2 3 4"/>
<path d="M995.6 578.9h178.7" stroke="#2a90e0" stroke-opacity="0.43" stroke-width="1.7" stroke-dasharray="4 2 2 6 6 4 3 2 2 6 2 3"/>
<path d="M995.6 581.9h178.7" stroke="#2a90e0" stroke-opacity="0.35" stroke-width="1.7" stroke-dasharray="3 4 3 6 4 2 4 3 3 2 6 2"/>
<path d="M995.6 584.9h178.7" stroke="#2a90e0" stroke-opacity="0.24" stroke-width="1.7" stroke-dasharray="2 4 6 3 3 4 4 3 2 6 2 3"/>
<path d="M995.6 593.9h178.7" stroke="#2a90e0" stroke-opacity="0.48" stroke-width="1.7" stroke-dasharray="6 3 2 6 4 6 3 3 3 6 3 4"/>
<path d="M995.6 599.8h178.7" stroke="#2a90e0" stroke-opacity="0.30" stroke-width="1.7" stroke-dasharray="6 4 3 4 2 6 3 4 6 2 4 3"/>
<path d="M995.6 602.8h178.7" stroke="#2a90e0" stroke-opacity="0.28" stroke-width="1.7" stroke-dasharray="2 3 4 6 6 6 3 4 3 2 4 6"/>
<path d="M995.6 605.8h178.7" stroke="#2a90e0" stroke-opacity="0.45" stroke-width="1.7" stroke-dasharray="3 3 4 2 3 3 6 3 2 6 6 4"/>
<path d="M995.6 620.8h178.7" stroke="#2a90e0" stroke-opacity="0.42" stroke-width="1.7" stroke-dasharray="3 3 4 6 2 2 6 2 2 4 2 4"/>
<path d="M995.6 626.7h178.7" stroke="#2a90e0" stroke-opacity="0.34" stroke-width="1.7" stroke-dasharray="3 3 6 2 6 4 2 6 3 6 4 3"/>
<path d="M998.6 456.4v179.3" stroke="#2a90e0" stroke-opacity="0.30" stroke-width="1.5" stroke-dasharray="5 8 3 5 3 8 5 5 2 2 8 3"/>
<path d="M1004.5 456.4v179.3" stroke="#2a90e0" stroke-opacity="0.25" stroke-width="1.5" stroke-dasharray="2 8 8 5 3 8 5 3 8 2 3 8"/>
<path d="M1010.5 456.4v179.3" stroke="#2a90e0" stroke-opacity="0.19" stroke-width="1.5" stroke-dasharray="3 3 5 5 8 8 5 3 3 3 5 2"/>
<path d="M1013.5 456.4v179.3" stroke="#2a90e0" stroke-opacity="0.33" stroke-width="1.5" stroke-dasharray="3 8 8 2 8 8 5 5 5 8 5 3"/>
<path d="M1019.4 456.4v179.3" stroke="#2a90e0" stroke-opacity="0.21" stroke-width="1.5" stroke-dasharray="2 3 8 5 2 5 3 3 3 5 5 5"/>
<path d="M1025.4 456.4v179.3" stroke="#2a90e0" stroke-opacity="0.31" stroke-width="1.5" stroke-dasharray="2 8 2 3 2 8 5 2 2 2 3 2"/>
<path d="M1034.3 456.4v179.3" stroke="#2a90e0" stroke-opacity="0.21" stroke-width="1.5" stroke-dasharray="2 3 3 3 5 3 2 2 2 2 2 3"/>
<path d="M1037.3 456.4v179.3" stroke="#2a90e0" stroke-opacity="0.21" stroke-width="1.5" stroke-dasharray="5 2 5 5 5 8 8 5 5 2 2 5"/>
<path d="M1049.2 456.4v179.3" stroke="#2a90e0" stroke-opacity="0.33" stroke-width="1.5" stroke-dasharray="2 2 2 5 3 5 5 8 3 3 2 3"/>
<path d="M1052.2 456.4v179.3" stroke="#2a90e0" stroke-opacity="0.32" stroke-width="1.5" stroke-dasharray="8 8 5 2 3 5 2 8 2 2 3 3"/>
<path d="M1055.2 456.4v179.3" stroke="#2a90e0" stroke-opacity="0.22" stroke-width="1.5" stroke-dasharray="8 8 3 2 8 8 3 2 3 3 2 8"/>
<path d="M1061.1 456.4v179.3" stroke="#2a90e0" stroke-opacity="0.34" stroke-width="1.5" stroke-dasharray="5 8 5 2 2 3 2 3 5 3 8 3"/>
<path d="M1067.1 456.4v179.3" stroke="#2a90e0" stroke-opacity="0.27" stroke-width="1.5" stroke-dasharray="3 5 5 3 3 2 3 8 5 5 8 5"/>
<path d="M1070.1 456.4v179.3" stroke="#2a90e0" stroke-opacity="0.19" stroke-width="1.5" stroke-dasharray="5 2 5 2 5 2 5 3 3 3 3 8"/>
<path d="M1085 456.4v179.3" stroke="#2a90e0" stroke-opacity="0.23" stroke-width="1.5" stroke-dasharray="5 2 5 8 5 2 2 2 8 8 8 2"/>
<path d="M1090.9 456.4v179.3" stroke="#2a90e0" stroke-opacity="0.29" stroke-width="1.5" stroke-dasharray="3 8 5 8 8 5 8 5 2 2 8 2"/>
<path d="M1096.9 456.4v179.3" stroke="#2a90e0" stroke-opacity="0.21" stroke-width="1.5" stroke-dasharray="5 3 2 3 2 8 2 5 2 5 8 2"/>
<path d="M1105.8 456.4v179.3" stroke="#2a90e0" stroke-opacity="0.21" stroke-width="1.5" stroke-dasharray="2 2 2 5 3 2 2 5 3 8 3 3"/>
<path d="M1111.8 456.4v179.3" stroke="#2a90e0" stroke-opacity="0.35" stroke-width="1.5" stroke-dasharray="8 5 5 2 3 8 2 2 5 8 8 3"/>
<path d="M1141.5 456.4v179.3" stroke="#2a90e0" stroke-opacity="0.27" stroke-width="1.5" stroke-dasharray="5 8 8 3 3 3 8 2 5 3 2 5"/>
<path d="M1144.5 456.4v179.3" stroke="#2a90e0" stroke-opacity="0.32" stroke-width="1.5" stroke-dasharray="3 5 5 3 5 3 8 2 2 3 5 2"/>
<path d="M1162.4 456.4v179.3" stroke="#2a90e0" stroke-opacity="0.25" stroke-width="1.5" stroke-dasharray="5 2 2 5 3 5 5 5 5 5 5 8"/>
</g>
</g>
<g>
<rect x="1015.2" y="475.3" width="180.2" height="178.7" fill="#000" filter="url(#ft2)"/>
<g filter="url(#soft)">
<path d="M1015.2 478.3h180.2" stroke="#2a90e0" stroke-opacity="0.45" stroke-width="1.7" stroke-dasharray="2 2 4 2 2 3 4 2 2 6 2 3"/>
<path d="M1015.2 487.2h180.2" stroke="#2a90e0" stroke-opacity="0.36" stroke-width="1.7" stroke-dasharray="6 4 6 6 4 6 4 4 4 4 2 2"/>
<path d="M1015.2 499.1h180.2" stroke="#2a90e0" stroke-opacity="0.41" stroke-width="1.7" stroke-dasharray="6 2 3 3 3 4 4 2 2 6 6 2"/>
<path d="M1015.2 502.1h180.2" stroke="#2a90e0" stroke-opacity="0.33" stroke-width="1.7" stroke-dasharray="6 2 3 4 4 2 3 2 3 4 6 3"/>
<path d="M1015.2 505.1h180.2" stroke="#2a90e0" stroke-opacity="0.28" stroke-width="1.7" stroke-dasharray="2 6 3 4 4 4 3 6 2 3 6 3"/>
<path d="M1015.2 508.1h180.2" stroke="#2a90e0" stroke-opacity="0.39" stroke-width="1.7" stroke-dasharray="2 4 2 2 3 2 3 6 3 3 3 3"/>
<path d="M1015.2 520h180.2" stroke="#2a90e0" stroke-opacity="0.43" stroke-width="1.7" stroke-dasharray="2 6 3 4 4 3 6 3 6 2 2 2"/>
<path d="M1015.2 523h180.2" stroke="#2a90e0" stroke-opacity="0.44" stroke-width="1.7" stroke-dasharray="3 3 4 3 3 3 3 3 2 6 3 4"/>
<path d="M1015.2 525.9h180.2" stroke="#2a90e0" stroke-opacity="0.39" stroke-width="1.7" stroke-dasharray="6 2 6 2 6 2 2 6 3 4 6 3"/>
<path d="M1015.2 534.9h180.2" stroke="#2a90e0" stroke-opacity="0.39" stroke-width="1.7" stroke-dasharray="4 6 3 3 3 3 6 4 6 4 4 3"/>
<path d="M1015.2 537.8h180.2" stroke="#2a90e0" stroke-opacity="0.35" stroke-width="1.7" stroke-dasharray="6 2 3 3 4 2 4 3 6 6 6 6"/>
<path d="M1015.2 540.8h180.2" stroke="#2a90e0" stroke-opacity="0.26" stroke-width="1.7" stroke-dasharray="4 6 3 6 3 3 3 2 4 6 2 6"/>
<path d="M1015.2 549.8h180.2" stroke="#2a90e0" stroke-opacity="0.39" stroke-width="1.7" stroke-dasharray="6 4 4 6 3 6 2 2 6 4 6 6"/>
<path d="M1015.2 555.7h180.2" stroke="#2a90e0" stroke-opacity="0.27" stroke-width="1.7" stroke-dasharray="3 2 3 4 6 4 3 4 3 6 3 4"/>
<path d="M1015.2 558.7h180.2" stroke="#2a90e0" stroke-opacity="0.32" stroke-width="1.7" stroke-dasharray="2 4 6 6 6 4 4 2 4 4 6 2"/>
<path d="M1015.2 573.6h180.2" stroke="#2a90e0" stroke-opacity="0.28" stroke-width="1.7" stroke-dasharray="6 4 2 4 6 2 4 2 4 4 4 6"/>
<path d="M1015.2 585.5h180.2" stroke="#2a90e0" stroke-opacity="0.34" stroke-width="1.7" stroke-dasharray="6 2 2 3 3 2 3 3 4 3 3 2"/>
<path d="M1015.2 597.4h180.2" stroke="#2a90e0" stroke-opacity="0.39" stroke-width="1.7" stroke-dasharray="2 2 3 2 3 6 3 2 6 6 6 2"/>
<path d="M1015.2 600.4h180.2" stroke="#2a90e0" stroke-opacity="0.27" stroke-width="1.7" stroke-dasharray="3 3 4 2 2 2 3 2 2 2 4 3"/>
<path d="M1015.2 603.4h180.2" stroke="#2a90e0" stroke-opacity="0.30" stroke-width="1.7" stroke-dasharray="3 2 3 3 4 3 4 2 6 4 6 6"/>
<path d="M1015.2 606.3h180.2" stroke="#2a90e0" stroke-opacity="0.37" stroke-width="1.7" stroke-dasharray="3 6 2 3 3 3 3 4 2 6 2 6"/>
<path d="M1015.2 612.3h180.2" stroke="#2a90e0" stroke-opacity="0.28" stroke-width="1.7" stroke-dasharray="2 6 6 2 4 6 3 2 3 6 3 6"/>
<path d="M1015.2 618.3h180.2" stroke="#2a90e0" stroke-opacity="0.29" stroke-width="1.7" stroke-dasharray="2 2 4 6 3 6 6 4 6 3 4 6"/>
<path d="M1015.2 621.2h180.2" stroke="#2a90e0" stroke-opacity="0.28" stroke-width="1.7" stroke-dasharray="3 2 4 4 4 4 3 6 4 2 6 2"/>
<path d="M1015.2 624.2h180.2" stroke="#2a90e0" stroke-opacity="0.35" stroke-width="1.7" stroke-dasharray="2 6 4 6 2 2 3 2 6 4 2 6"/>
<path d="M1015.2 633.2h180.2" stroke="#2a90e0" stroke-opacity="0.43" stroke-width="1.7" stroke-dasharray="4 2 6 4 2 2 6 4 3 2 4 4"/>
<path d="M1027.2 475.3v178.7" stroke="#2a90e0" stroke-opacity="0.29" stroke-width="1.5" stroke-dasharray="3 8 5 8 5 8 8 2 2 3 5 2"/>
<path d="M1030.2 475.3v178.7" stroke="#2a90e0" stroke-opacity="0.22" stroke-width="1.5" stroke-dasharray="3 5 8 3 5 2 8 8 2 2 2 2"/>
<path d="M1042.2 475.3v178.7" stroke="#2a90e0" stroke-opacity="0.34" stroke-width="1.5" stroke-dasharray="8 2 5 5 3 3 2 3 5 5 3 3"/>
<path d="M1051.2 475.3v178.7" stroke="#2a90e0" stroke-opacity="0.22" stroke-width="1.5" stroke-dasharray="3 8 3 5 5 2 3 3 5 2 8 8"/>
<path d="M1057.2 475.3v178.7" stroke="#2a90e0" stroke-opacity="0.28" stroke-width="1.5" stroke-dasharray="8 8 5 2 8 3 8 8 3 5 3 2"/>
<path d="M1063.3 475.3v178.7" stroke="#2a90e0" stroke-opacity="0.24" stroke-width="1.5" stroke-dasharray="8 3 3 8 8 8 5 5 2 8 5 3"/>
<path d="M1078.3 475.3v178.7" stroke="#2a90e0" stroke-opacity="0.24" stroke-width="1.5" stroke-dasharray="2 5 8 2 3 8 5 5 8 3 5 2"/>
<path d="M1081.3 475.3v178.7" stroke="#2a90e0" stroke-opacity="0.23" stroke-width="1.5" stroke-dasharray="8 2 5 8 5 5 8 3 3 5 3 3"/>
<path d="M1084.3 475.3v178.7" stroke="#2a90e0" stroke-opacity="0.36" stroke-width="1.5" stroke-dasharray="3 2 8 2 3 2 3 2 3 2 5 2"/>
<path d="M1087.3 475.3v178.7" stroke="#2a90e0" stroke-opacity="0.28" stroke-width="1.5" stroke-dasharray="2 5 2 8 2 5 5 2 8 5 3 2"/>
<path d="M1105.3 475.3v178.7" stroke="#2a90e0" stroke-opacity="0.20" stroke-width="1.5" stroke-dasharray="3 3 2 3 2 5 5 8 8 2 2 8"/>
<path d="M1108.3 475.3v178.7" stroke="#2a90e0" stroke-opacity="0.28" stroke-width="1.5" stroke-dasharray="5 3 8 5 2 2 2 8 8 3 5 5"/>
<path d="M1120.3 475.3v178.7" stroke="#2a90e0" stroke-opacity="0.27" stroke-width="1.5" stroke-dasharray="5 5 5 3 3 3 3 3 2 2 3 5"/>
<path d="M1123.3 475.3v178.7" stroke="#2a90e0" stroke-opacity="0.34" stroke-width="1.5" stroke-dasharray="2 8 8 8 2 2 3 8 3 3 2 3"/>
<path d="M1141.3 475.3v178.7" stroke="#2a90e0" stroke-opacity="0.36" stroke-width="1.5" stroke-dasharray="5 3 2 8 8 8 5 8 2 3 2 8"/>
<path d="M1147.3 475.3v178.7" stroke="#2a90e0" stroke-opacity="0.32" stroke-width="1.5" stroke-dasharray="3 2 3 3 2 5 2 5 2 5 2 8"/>
<path d="M1150.3 475.3v178.7" stroke="#2a90e0" stroke-opacity="0.27" stroke-width="1.5" stroke-dasharray="2 8 3 3 3 5 8 5 2 8 3 2"/>
<path d="M1159.4 475.3v178.7" stroke="#2a90e0" stroke-opacity="0.26" stroke-width="1.5" stroke-dasharray="3 2 5 2 5 2 2 3 8 3 3 3"/>
<path d="M1165.4 475.3v178.7" stroke="#2a90e0" stroke-opacity="0.36" stroke-width="1.5" stroke-dasharray="8 2 3 8 2 3 8 2 3 8 2 5"/>
<path d="M1174.4 475.3v178.7" stroke="#2a90e0" stroke-opacity="0.19" stroke-width="1.5" stroke-dasharray="5 3 5 5 3 2 8 8 8 2 3 2"/>
<path d="M1180.4 475.3v178.7" stroke="#2a90e0" stroke-opacity="0.35" stroke-width="1.5" stroke-dasharray="3 5 2 8 8 5 3 2 8 8 5 2"/>
<path d="M1186.4 475.3v178.7" stroke="#2a90e0" stroke-opacity="0.32" stroke-width="1.5" stroke-dasharray="8 3 3 2 8 8 3 2 3 2 2 2"/>
</g>
<rect x="1015.2" y="475.3" width="180.2" height="178.7" fill="none" stroke="#f0e8e8" stroke-width="1.2"/>
</g>
<g fill="#111">
<circle cx="242" cy="533" r="2"/>
<circle cx="929.5" cy="527.3" r="2"/>
<circle cx="249.2" cy="533" r="2"/>
<circle cx="937.1" cy="527.3" r="2"/>
<circle cx="256.4" cy="533" r="2"/>
<circle cx="944.7" cy="527.3" r="2"/>
<circle cx="263.6" cy="533" r="2"/>
<circle cx="952.3" cy="527.3" r="2"/>
<circle cx="270.8" cy="533" r="2"/>
<circle cx="959.9" cy="527.3" r="2"/>
<circle cx="278" cy="533" r="2"/>
<circle cx="967.5" cy="527.3" r="2"/>
<circle cx="285.2" cy="533" r="2"/>
<circle cx="975.1" cy="527.3" r="2"/>
<circle cx="292.4" cy="533" r="2"/>
<circle cx="982.7" cy="527.3" r="2"/>
</g>
<text x="104.4" y="683.5" font-size="23" font-weight="bold" textLength="331" lengthAdjust="spacingAndGlyphs" fill="#0b0b18">691 mean ISFC matrices in ASD</text>
<text x="786.5" y="683.5" font-size="23" font-weight="bold" textLength="315" lengthAdjust="spacingAndGlyphs" fill="#0b0b18">691  mean ISFC matrices in TD</text>
<text x="440.8" y="840.8" font-size="21.5" font-weight="bold" textLength="316.4" lengthAdjust="spacingAndGlyphs" fill="#1a1a1a">Numbers of ISFC difference</text>
<g stroke="#d2e0f2" stroke-width="1.6">
<path d="M70.4 870 H1169.6"/>
<path d="M70.4 924.8 H1169.6"/>
<path d="M70.4 979.5 H1169.6"/>
<path d="M70.4 1034.2 H1169.6"/>
<path d="M70.4 1089 H1169.6"/>
<path d="M70.4 1143.8 H1169.6"/>
<path d="M70.4 1198.5 H1169.6"/>
<path d="M70.4 1253.2 H1169.6"/>
</g>
<g stroke="#222" stroke-width="0.3">
<text x="34.2" y="874.6" font-size="12.5" textLength="24.4" lengthAdjust="spacingAndGlyphs" fill="#222">600</text>
<text x="34.2" y="929.4" font-size="12.5" textLength="24.4" lengthAdjust="spacingAndGlyphs" fill="#222">400</text>
<text x="34.2" y="984.1" font-size="12.5" textLength="24.4" lengthAdjust="spacingAndGlyphs" fill="#222">200</text>
<text x="49.4" y="1038.8" font-size="12.5" textLength="9.2" lengthAdjust="spacingAndGlyphs" fill="#222">0</text>
<text x="30" y="1093.6" font-size="12.5" textLength="28.6" lengthAdjust="spacingAndGlyphs" fill="#222">-200</text>
<text x="30" y="1148.3" font-size="12.5" textLength="28.6" lengthAdjust="spacingAndGlyphs" fill="#222">-400</text>
<text x="30" y="1203.1" font-size="12.5" textLength="28.6" lengthAdjust="spacingAndGlyphs" fill="#222">-600</text>
<text x="30" y="1257.8" font-size="12.5" textLength="28.6" lengthAdjust="spacingAndGlyphs" fill="#222">-800</text>
</g>
<path d="M62 909 L1130.4 911.5 M62 1159.3 L1132.7 1159" stroke="#f01818" stroke-width="2"/>
<text x="1141.7" y="913.5" font-size="17" font-weight="bold" textLength="37.3" lengthAdjust="spacingAndGlyphs" fill="#f01010">2std</text>
<text x="1138" y="1163" font-size="17" font-weight="bold" textLength="43.4" lengthAdjust="spacingAndGlyphs" fill="#f01010">-2std</text>
<path d="M70 1036 L71.3 1061.2 L72.7 1088 L73.2 1086.7 L73.8 1088 L76 1078.7 L78.3 1070 L81.2 1054.1 L84 1040.5 L85.2 1039.1 L86.3 1040.5 L88 1042.4 L89.7 1045 L92.6 1047.3 L95.4 1047 L97.7 1049.2 L99.9 1049.5 L102.2 1044.6 L104.4 1038 L107.6 1031.6 L110.8 1027 L113.3 1029.1 L115.8 1031 L119.8 1055.3 L123.7 1081 L125.9 1078.5 L128.2 1078 L131.6 1073.7 L135 1072 L137.8 1067.6 L140.7 1065 L142.9 1076.9 L145.2 1086 L147.5 1087.6 L149.8 1087 L153.2 1076 L156.6 1063 L160 1053.8 L163.4 1042.7 L165.7 1037.8 L168 1034.8 L170.2 1035.3 L172.4 1037 L174.7 1036.3 L177 1034.8 L180.4 1039.5 L183.8 1042.7 L188.9 1039.3 L194 1033.7 L198 1040.6 L202 1045 L206.5 1058.4 L211 1074.5 L214.4 1076.6 L217.8 1078 L221.2 1071 L224.6 1063 L226.8 1048.9 L229.1 1034.8 L230.2 1056.9 L231.4 1081 L233.7 1090.1 L236 1099.4 L237.7 1094.1 L239.3 1091.5 L242.7 1108.1 L246.1 1122 L248.1 1127.7 L250.2 1131 L251.3 1146 L252.5 1160.7 L254.2 1172.5 L255.9 1185.6 L257.6 1175.6 L259.3 1163 L261 1142.7 L262.7 1122 L264.4 1104 L266 1083.6 L268.3 1076.8 L270.6 1067.7 L272.3 1072.3 L274 1076.8 L275.7 1073.1 L277.4 1070 L279.1 1074.8 L280.8 1079 L283.1 1079.9 L285.4 1081.3 L287.6 1084.1 L289.9 1089 L292.1 1077.7 L294.4 1067.7 L296.7 1058.5 L299 1047.3 L301.2 1043.5 L303.5 1042.7 L306.4 1044.6 L309.2 1049.5 L311.4 1043.2 L313.7 1036 L316.5 1031.8 L319.4 1029 L322.2 1046.1 L325 1063 L327.3 1070.4 L329.6 1078 L331.3 1071.2 L333 1065.4 L335.2 1050 L337.5 1031.4 L339.2 1030.4 L340.9 1031.4 L343.1 1037.9 L345.4 1045 L348.8 1042.3 L352.2 1041.6 L355 1036.9 L357.9 1031.4 L360.8 1034.1 L363.6 1038.2 L367.6 1039.4 L371.5 1041.6 L374.9 1045.2 L378.3 1047.3 L380.6 1049 L382.9 1051.8 L384 1076.9 L385.1 1101.7 L387.4 1124.5 L389.7 1144.8 L391.9 1199.1 L394.2 1256 L395.9 1252.3 L397.6 1251.4 L399.3 1236.8 L401 1224 L404.4 1204.5 L407.8 1183.3 L409.5 1198.4 L411.2 1212.8 L412.9 1213.1 L414.6 1215 L417.5 1228.1 L420.3 1242.3 L423.1 1220.9 L426 1201.5 L427.6 1198 L429.3 1194.7 L430.5 1198.9 L431.6 1206 L433.9 1191.9 L436.1 1176.5 L439.3 1187.4 L442.5 1195.8 L444.2 1189.9 L445.9 1181 L448.7 1176.1 L451.5 1169.7 L453.2 1158.7 L454.9 1144.8 L456.6 1136.4 L458.3 1131 L460 1137.2 L461.7 1144.8 L463.4 1137.2 L465.1 1126.6 L467.4 1096.9 L469.7 1065.4 L471.9 1052.7 L474.2 1040.5 L476.5 1035.1 L478.8 1026.9 L481.6 1028.3 L484.4 1029 L486.7 1031.2 L489 1031.4 L490.7 1029 L492.4 1028 L495.2 1029.9 L498 1033.7 L502.6 1034.7 L507.1 1036 L511.7 1033.7 L516.2 1033.7 L520.7 1032.2 L525.2 1031.4 L529.8 1031.7 L534.3 1029 L536 1018.3 L537.7 1008.7 L540.5 995.8 L543.4 986 L545.5 1003.8 L547.5 1024.6 L548.9 992.9 L550.2 963.4 L553 970 L555.9 974.7 L558.1 982.8 L560.4 991.7 L563.2 992.2 L566 994 L568.9 984.2 L571.7 977 L573.4 984.2 L575.1 988.3 L578 979 L580.8 970.2 L583.4 962.5 L586 956.6 L587.4 962 L588.7 970.2 L591 969.9 L593.3 972.4 L595.5 978.1 L597.8 986 L601.2 996.8 L604.6 1006.5 L608 1007.6 L611.4 1011 L614.2 1019.7 L617.1 1031.4 L619.4 1034.2 L621.6 1037 L624.2 1030 L626.8 1024.6 L629.6 1029.6 L632.5 1031.4 L634.8 1030.2 L637 1031.4 L639.2 1028.6 L641.5 1025.7 L643.8 1029.4 L646.1 1031.4 L648.4 1031.1 L650.6 1031.4 L654.5 1023.9 L658.5 1013.3 L660.8 1022.3 L663.1 1031.4 L665.4 1031.7 L667.6 1033.7 L670.5 1036.8 L673.3 1040.5 L676.1 1042.4 L679 1047.3 L682.4 1035.7 L685.8 1024.6 L688 1021.5 L690.3 1020 L693.7 1024.7 L697.1 1026.9 L700.5 1038.2 L703.9 1047.3 L707.3 1049.5 L710.7 1051.8 L714.7 1051.4 L718.6 1054 L723.7 1045.3 L728.8 1038.2 L731.1 1039.6 L733.4 1042.7 L735.6 1047.4 L737.9 1054 L740.8 1058.8 L743.6 1065.4 L746.5 1088.1 L749.3 1108.5 L752.1 1106.2 L754.9 1106.2 L757.2 1084.4 L759.5 1065.4 L761.8 1057.7 L764 1047.3 L766.9 1048.6 L769.7 1049.5 L772 1053.3 L774.2 1054 L776.5 1092.3 L778.7 1131.2 L780.4 1138.1 L782.1 1142.5 L783.8 1132.2 L785.5 1121 L787.2 1122.4 L788.9 1122 L790.6 1127.4 L792.3 1131.2 L794.6 1119.8 L796.9 1108.5 L799.7 1104.9 L802.5 1104 L805.4 1088.3 L808.2 1074.5 L810.5 1069.4 L812.7 1062 L814.2 1062.8 L815.7 1061 L817.4 1065.7 L819.1 1067.7 L822.5 1068.3 L825.9 1070 L828.1 1076.2 L830.4 1081.3 L832.7 1101.6 L835 1120 L836.6 1113.6 L838.3 1106.2 L840 1114.1 L841.7 1120 L842.9 1114.3 L844 1108.5 L844.5 1115.7 L845.1 1122 L847.4 1131.6 L849.7 1140 L851.4 1174.5 L853.1 1210.5 L855.4 1179 L857.6 1144.8 L859.9 1107.7 L862.2 1067.7 L864.5 1057.2 L866.7 1049.5 L868.4 1046.5 L870.1 1040.5 L872.4 1042 L874.6 1040.5 L876.9 1031.9 L879.2 1022.3 L881.5 1028.8 L883.7 1038.2 L886 1059.9 L888.2 1079 L889.9 1081.2 L891.6 1085.8 L893.3 1103.2 L895 1117.6 L896.7 1120.3 L898.4 1122 L900.6 1129.6 L902.9 1140 L905.8 1149.3 L908.6 1160.7 L911.5 1150.9 L914.3 1140.2 L916.5 1131.3 L918.8 1122 L921.1 1130.8 L923.4 1138 L925.6 1123.5 L927.9 1106.2 L930.8 1083.8 L933.6 1063.2 L935.9 1055.9 L938.1 1051.8 L942 1064.5 L946 1074.5 L948.9 1067.3 L951.7 1063.2 L954.5 1064.4 L957.4 1063.2 L960.2 1073.9 L963.1 1087 L965.9 1081.7 L968.7 1074.5 L971 1081.1 L973.3 1085.8 L976.1 1076.8 L979 1065.4 L983 1038.4 L986.9 1011 L990.3 1013.4 L993.7 1013.3 L996.9 980.6 L1000 949.8 L1001.4 945.8 L1002.7 940.7 L1003.7 923.2 L1004.6 906.7 L1006.2 912.5 L1007.9 915.8 L1010.2 926.8 L1012.5 936 L1014.2 934.3 L1015.9 932.8 L1017 938 L1018.1 943 L1019.8 940.3 L1021.5 940.7 L1024.3 963.6 L1027.2 989.5 L1030.6 979.1 L1034 968 L1034.5 954.3 L1035.1 940.7 L1036.6 933.4 L1038.1 923.7 L1040 925.7 L1042 927 L1043.1 936.1 L1044.2 947.5 L1047.6 992.4 L1051 1038.2 L1055 1043.6 L1059 1047.3 L1062.4 1044.5 L1065.8 1041.6 L1069.8 1033.7 L1073.7 1029 L1076.6 1031.3 L1079.4 1031.4 L1081.7 1039.2 L1083.9 1045 L1085.6 1044.8 L1087.3 1047.3 L1090.2 1028.1 L1093 1008.7 L1095.8 1006.6 L1098.6 1005.3 L1101.4 1013.6 L1104.3 1020 L1105.4 1013.7 L1106.6 1008.7 L1108.8 1010.1 L1111 1013.3 L1113.3 1017.8 L1115.6 1022.3 L1117.9 1019.3 L1120.2 1013.3 L1122.5 1014.3 L1124.7 1017.8 L1127 1013.2 L1129.3 1011 L1131.5 1008 L1133.8 1004.2 L1136 1006.6 L1138.3 1006.5 L1140.6 1011.6 L1142.9 1016.7 L1145.2 1008 L1147.4 999.7 L1150.8 993.5 L1154.2 985 L1156.5 988.7 L1158.7 990.6 L1161 990.4 L1163.3 992.9 L1165 994.1 L1166.7 992.9 L1167.2 1001 L1167.8 1011" fill="none" stroke="#3b72bf" stroke-width="3.8" stroke-linejoin="round" stroke-linecap="round"/>
<g font-size="12" fill="#1a1a1a" stroke="#1a1a1a" stroke-width="0.35">
<text transform="translate(74.4 1044) rotate(-90)" text-anchor="end" textLength="6.8" lengthAdjust="spacingAndGlyphs">1</text>
<text transform="translate(93.5 1044) rotate(-90)" text-anchor="end" textLength="13.6" lengthAdjust="spacingAndGlyphs">13</text>
<text transform="translate(112.6 1044) rotate(-90)" text-anchor="end" textLength="13.6" lengthAdjust="spacingAndGlyphs">25</text>
<text transform="translate(131.7 1044) rotate(-90)" text-anchor="end" textLength="13.6" lengthAdjust="spacingAndGlyphs">37</text>
<text transform="translate(150.8 1044) rotate(-90)" text-anchor="end" textLength="13.6" lengthAdjust="spacingAndGlyphs">49</text>
<text transform="translate(169.9 1044) rotate(-90)" text-anchor="end" textLength="13.6" lengthAdjust="spacingAndGlyphs">61</text>
<text transform="translate(189 1044) rotate(-90)" text-anchor="end" textLength="13.6" lengthAdjust="spacingAndGlyphs">73</text>
<text transform="translate(208.1 1044) rotate(-90)" text-anchor="end" textLength="13.6" lengthAdjust="spacingAndGlyphs">85</text>
<text transform="translate(227.2 1044) rotate(-90)" text-anchor="end" textLength="13.6" lengthAdjust="spacingAndGlyphs">97</text>
<text transform="translate(246.3 1044) rotate(-90)" text-anchor="end" textLength="20.4" lengthAdjust="spacingAndGlyphs">109</text>
<text transform="translate(265.4 1044) rotate(-90)" text-anchor="end" textLength="20.4" lengthAdjust="spacingAndGlyphs">121</text>
<text transform="translate(284.5 1044) rotate(-90)" text-anchor="end" textLength="20.4" lengthAdjust="spacingAndGlyphs">133</text>
<text transform="translate(303.6 1044) rotate(-90)" text-anchor="end" textLength="20.4" lengthAdjust="spacingAndGlyphs">145</text>
<text transform="translate(322.7 1044) rotate(-90)" text-anchor="end" textLength="20.4" lengthAdjust="spacingAndGlyphs">157</text>
<text transform="translate(341.8 1044) rotate(-90)" text-anchor="end" textLength="20.4" lengthAdjust="spacingAndGlyphs">169</text>
<text transform="translate(360.9 1044) rotate(-90)" text-anchor="end" textLength="20.4" lengthAdjust="spacingAndGlyphs">181</text>
<text transform="translate(380 1044) rotate(-90)" text-anchor="end" textLength="20.4" lengthAdjust="spacingAndGlyphs">193</text>
<text transform="translate(399.1 1044) rotate(-90)" text-anchor="end" textLength="20.4" lengthAdjust="spacingAndGlyphs">205</text>
<text transform="translate(418.2 1044) rotate(-90)" text-anchor="end" textLength="20.4" lengthAdjust="spacingAndGlyphs">217</text>
<text transform="translate(437.3 1044) rotate(-90)" text-anchor="end" textLength="20.4" lengthAdjust="spacingAndGlyphs">229</text>
<text transform="translate(456.4 1044) rotate(-90)" text-anchor="end" textLength="20.4" lengthAdjust="spacingAndGlyphs">241</text>
<text transform="translate(475.5 1044) rotate(-90)" text-anchor="end" textLength="20.4" lengthAdjust="spacingAndGlyphs">253</text>
<text transform="translate(494.6 1044) rotate(-90)" text-anchor="end" textLength="20.4" lengthAdjust="spacingAndGlyphs">265</text>
<text transform="translate(513.7 1044) rotate(-90)" text-anchor="end" textLength="20.4" lengthAdjust="spacingAndGlyphs">277</text>
<text transform="translate(532.8 1044) rotate(-90)" text-anchor="end" textLength="20.4" lengthAdjust="spacingAndGlyphs">289</text>
<text transform="translate(551.9 1044) rotate(-90)" text-anchor="end" textLength="20.4" lengthAdjust="spacingAndGlyphs">301</text>
<text transform="translate(571 1044) rotate(-90)" text-anchor="end" textLength="20.4" lengthAdjust="spacingAndGlyphs">313</text>
<text transform="translate(590.1 1044) rotate(-90)" text-anchor="end" textLength="20.4" lengthAdjust="spacingAndGlyphs">325</text>
<text transform="translate(609.2 1044) rotate(-90)" text-anchor="end" textLength="20.4" lengthAdjust="spacingAndGlyphs">337</text>
<text transform="translate(628.3 1044) rotate(-90)" text-anchor="end" textLength="20.4" lengthAdjust="spacingAndGlyphs">349</text>
<text transform="translate(647.4 1044) rotate(-90)" text-anchor="end" textLength="20.4" lengthAdjust="spacingAndGlyphs">361</text>
<text transform="translate(666.5 1044) rotate(-90)" text-anchor="end" textLength="20.4" lengthAdjust="spacingAndGlyphs">373</text>
<text transform="translate(685.6 1044) rotate(-90)" text-anchor="end" textLength="20.4" lengthAdjust="spacingAndGlyphs">385</text>
<text transform="translate(704.7 1044) rotate(-90)" text-anchor="end" textLength="20.4" lengthAdjust="spacingAndGlyphs">397</text>
<text transform="translate(723.8 1044) rotate(-90)" text-anchor="end" textLength="20.4" lengthAdjust="spacingAndGlyphs">409</text>
<text transform="translate(742.9 1044) rotate(-90)" text-anchor="end" textLength="20.4" lengthAdjust="spacingAndGlyphs">421</text>
<text transform="translate(762 1044) rotate(-90)" text-anchor="end" textLength="20.4" lengthAdjust="spacingAndGlyphs">433</text>
<text transform="translate(781.1 1044) rotate(-90)" text-anchor="end" textLength="20.4" lengthAdjust="spacingAndGlyphs">445</text>
<text transform="translate(800.2 1044) rotate(-90)" text-anchor="end" textLength="20.4" lengthAdjust="spacingAndGlyphs">457</text>
<text transform="translate(819.3 1044) rotate(-90)" text-anchor="end" textLength="20.4" lengthAdjust="spacingAndGlyphs">469</text>
<text transform="translate(838.4 1044) rotate(-90)" text-anchor="end" textLength="20.4" lengthAdjust="spacingAndGlyphs">481</text>
<text transform="translate(857.5 1044) rotate(-90)" text-anchor="end" textLength="20.4" lengthAdjust="spacingAndGlyphs">493</text>
<text transform="translate(876.6 1044) rotate(-90)" text-anchor="end" textLength="20.4" lengthAdjust="spacingAndGlyphs">505</text>
<text transform="translate(895.7 1044) rotate(-90)" text-anchor="end" textLength="20.4" lengthAdjust="spacingAndGlyphs">517</text>
<text transform="translate(914.8 1044) rotate(-90)" text-anchor="end" textLength="20.4" lengthAdjust="spacingAndGlyphs">529</text>
<text transform="translate(933.9 1044) rotate(-90)" text-anchor="end" textLength="20.4" lengthAdjust="spacingAndGlyphs">541</text>
<text transform="translate(953 1044) rotate(-90)" text-anchor="end" textLength="20.4" lengthAdjust="spacingAndGlyphs">553</text>
<text transform="translate(972.1 1044) rotate(-90)" text-anchor="end" textLength="20.4" lengthAdjust="spacingAndGlyphs">565</text>
<text transform="translate(991.2 1044) rotate(-90)" text-anchor="end" textLength="20.4" lengthAdjust="spacingAndGlyphs">577</text>
<text transform="translate(1010.3 1044) rotate(-90)" text-anchor="end" textLength="20.4" lengthAdjust="spacingAndGlyphs">589</text>
<text transform="translate(1029.4 1044) rotate(-90)" text-anchor="end" textLength="20.4" lengthAdjust="spacingAndGlyphs">601</text>
<text transform="translate(1048.5 1044) rotate(-90)" text-anchor="end" textLength="20.4" lengthAdjust="spacingAndGlyphs">613</text>
<text transform="translate(1067.6 1044) rotate(-90)" text-anchor="end" textLength="20.4" lengthAdjust="spacingAndGlyphs">625</text>
<text transform="translate(1086.7 1044) rotate(-90)" text-anchor="end" textLength="20.4" lengthAdjust="spacingAndGlyphs">637</text>
<text transform="translate(1105.8 1044) rotate(-90)" text-anchor="end" textLength="20.4" lengthAdjust="spacingAndGlyphs">649</text>
<text transform="translate(1124.9 1044) rotate(-90)" text-anchor="end" textLength="20.4" lengthAdjust="spacingAndGlyphs">661</text>
<text transform="translate(1144 1044) rotate(-90)" text-anchor="end" textLength="20.4" lengthAdjust="spacingAndGlyphs">673</text>
<text transform="translate(1163.1 1044) rotate(-90)" text-anchor="end" textLength="20.4" lengthAdjust="spacingAndGlyphs">685</text>
</g>
<g fill="none" stroke="#5a5a5a" stroke-width="2.4">
<rect x="248" y="887.4" width="14" height="378.6"/>
<rect x="387.8" y="887.4" width="68.3" height="378.6"/>
<rect x="846.7" y="890.8" width="13.2" height="378.7"/>
<rect x="999.3" y="889.7" width="11.4" height="379.8"/>
</g>
<text x="233.8" y="1295.7" font-size="19" font-weight="bold" textLength="45.5" lengthAdjust="spacingAndGlyphs" fill="#f01010">clip1</text>
<text x="399.5" y="1295.7" font-size="19" font-weight="bold" textLength="46.7" lengthAdjust="spacingAndGlyphs" fill="#f01010">clip2</text>
<text x="836.3" y="1295.7" font-size="19" font-weight="bold" textLength="46.7" lengthAdjust="spacingAndGlyphs" fill="#f01010">clip3</text>
<text x="984.5" y="1295.7" font-size="19" font-weight="bold" textLength="46.7" lengthAdjust="spacingAndGlyphs" fill="#f01010">clip4</text>
<g fill="none" stroke="#111" stroke-width="2.8">
<rect x="61.5" y="1418.3" width="217.5" height="72.7" rx="13"/>
<rect x="61.5" y="1518" width="217.5" height="70.6" rx="13"/>
<rect x="61.5" y="1612.9" width="217.5" height="72.8" rx="13"/>
<rect x="61.5" y="1714.8" width="217.5" height="72.7" rx="13"/>
<rect x="61.5" y="1817.7" width="217.5" height="71.7" rx="13"/>
</g>
<text x="99.6" y="1466" font-size="23" font-weight="bold" textLength="135.4" lengthAdjust="spacingAndGlyphs" fill="#0b0b18">Entire movie</text>
<text x="136.4" y="1560" font-size="23" font-weight="bold" textLength="56.4" lengthAdjust="spacingAndGlyphs" fill="#0b0b18">Clip 1</text>
<text x="137.5" y="1656" font-size="23" font-weight="bold" textLength="58.5" lengthAdjust="spacingAndGlyphs" fill="#0b0b18">Clip 2</text>
<text x="137.5" y="1761.4" font-size="23" font-weight="bold" textLength="57.5" lengthAdjust="spacingAndGlyphs" fill="#0b0b18">Clip 3</text>
<text x="136.4" y="1860" font-size="23" font-weight="bold" textLength="57.4" lengthAdjust="spacingAndGlyphs" fill="#0b0b18">Clip 4</text>
<g fill="none" stroke="#111" stroke-width="2.8" stroke-linecap="round" stroke-linejoin="round">
<path d="M312 1463.2 L447.7 1565.3 M439.6 1547.9 L447.7 1565.3 L428 1563"/>
<path d="M310.9 1554.8 L435 1609.3 M423.4 1594.3 L435 1609.3 L415.3 1611.7"/>
<path d="M310.9 1651.5 L426.9 1651.5 M410.6 1642.3 L426.9 1651.5 L410.6 1660.8"/>
<path d="M315 1749.7 L430.3 1687.7 M411.8 1688.2 L430.3 1687.7 L421 1704.4"/>
<path d="M315 1855 L442.5 1761.7 M423.3 1764.2 L442.5 1761.7 L434.2 1779.2"/>
</g>
</svg>
</body></html>
